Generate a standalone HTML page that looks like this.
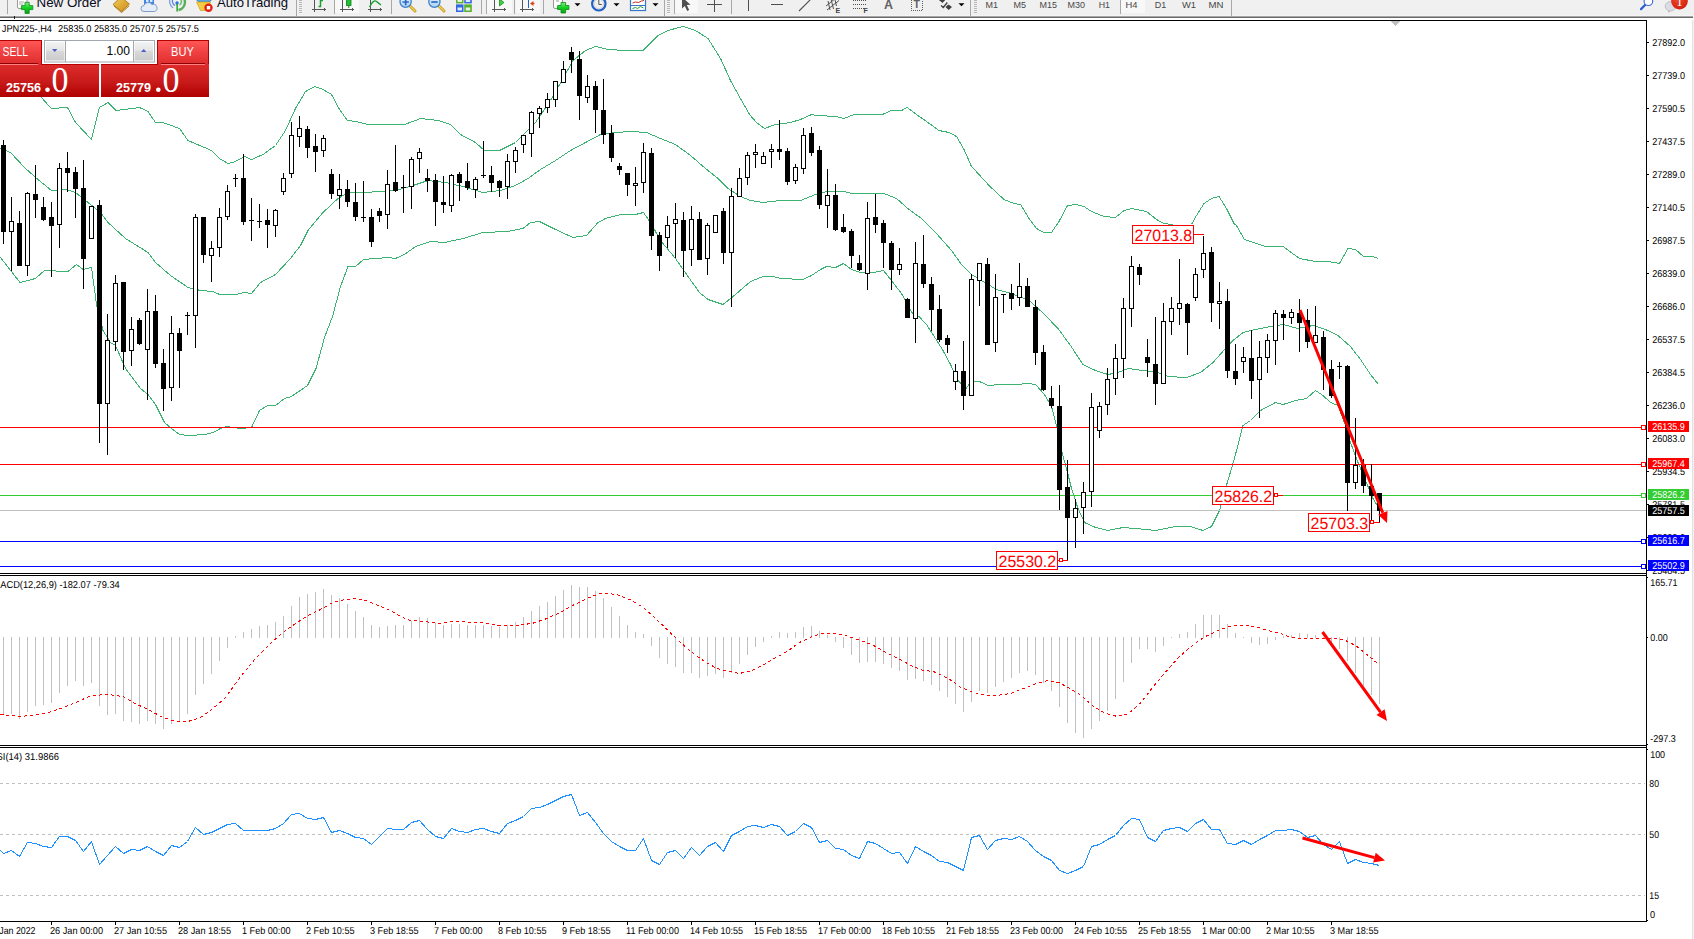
<!DOCTYPE html>
<html><head><meta charset="utf-8"><title>JPN225 H4</title>
<style>
html,body{margin:0;padding:0;background:#fff;}
body{width:1694px;height:939px;overflow:hidden;position:relative;font-family:"Liberation Sans",sans-serif;}
</style></head><body>
<svg width="1694" height="939" viewBox="0 0 1694 939" style="position:absolute;left:0;top:0" text-rendering="geometricPrecision">
<rect x="0" y="0" width="1694" height="939" fill="#fff"/>
<g shape-rendering="crispEdges">
<polyline points="34.5,88.5 44.0,100.5 51.5,108.5 67.5,107.5 75.5,122.5 91.5,139.5 99.5,107.5 108.0,102.5 116.0,110.5 139.5,107.5 148.0,111.5 155.5,122.5 163.0,122.5 179.5,128.5 188.0,140.5 211.5,150.5 219.5,158.5 228.0,163.5 235.5,161.5 244.5,156.5 251.5,159.5 263.0,154.5 275.5,145.5 285.5,130.5 295.5,108.5 305.5,91.5 315.0,86.5 323.0,89.5 331.5,94.5 339.5,109.5 347.5,120.5 355.5,121.5 368.0,124.5 383.0,124.5 404.5,124.5 415.5,120.5 420.5,118.5 438.0,120.5 450.5,124.5 460.5,134.5 475.5,142.5 484.5,150.5 499.5,150.5 515.5,142.5 525.5,132.5 535.5,122.5 550.5,100.5 563.0,78.5 573.0,60.5 585.5,50.5 595.5,46.5 608.0,49.5 625.5,50.5 643.0,50.5 658.0,35.5 668.0,30.5 683.0,26.5 695.5,30.5 708.0,38.5 720.5,58.5 730.5,80.5 740.5,98.5 749.5,114.5 756.5,122.5 764.5,128.5 775.5,124.5 790.5,122.5 800.5,119.5 811.5,114.5 816.5,115.5 836.5,116.5 844.0,118.5 854.0,114.5 882.5,114.5 891.5,110.5 901.5,110.5 907.0,107.5 916.5,114.5 926.5,121.5 939.0,130.5 949.0,132.5 956.5,136.5 964.0,149.5 971.5,166.5 979.0,174.5 989.0,185.5 1004.0,199.5 1014.0,203.5 1020.5,204.5 1029.0,218.5 1036.5,228.5 1044.0,232.5 1051.5,232.5 1059.0,221.5 1067.5,205.5 1076.5,204.5 1084.0,206.5 1091.5,211.5 1104.0,216.5 1115.5,217.5 1124.0,210.5 1131.5,208.5 1146.5,211.5 1156.5,219.5 1164.0,223.5 1172.5,224.5 1175.5,226.5 1188.5,226.5 1191.5,224.5 1196.5,215.5 1204.0,203.5 1211.5,198.5 1219.0,196.5 1226.5,208.5 1234.0,223.5 1236.5,225.5 1244.5,239.5 1265.5,246.5 1283.0,246.5 1299.5,258.5 1315.5,261.5 1328.0,261.5 1339.5,263.5 1348.0,248.5 1355.5,249.5 1363.5,256.5 1373.0,256.5 1378.5,258.5" fill="none" stroke="#3cb371" stroke-width="1"/>
<polyline points="0.5,148.5 10.5,152.5 25.5,168.5 38.0,179.5 51.5,190.5 66.5,189.5 75.5,192.5 85.5,200.5 100.5,212.5 108.0,222.5 125.5,238.5 148.0,252.5 155.5,262.5 170.5,275.5 188.0,287.5 200.5,290.5 213.0,291.5 219.5,294.5 235.5,294.5 244.5,292.5 251.5,293.5 260.5,282.5 275.5,274.5 290.5,258.5 300.5,245.5 308.0,230.5 323.0,212.5 338.0,198.5 348.0,192.5 360.5,192.5 383.0,191.5 395.5,190.5 413.0,185.5 428.0,180.5 445.5,182.5 463.0,186.5 483.0,192.5 500.5,190.5 515.5,185.5 528.0,178.5 540.5,169.5 555.5,160.5 570.5,150.5 585.5,142.5 600.5,134.5 615.5,132.5 630.5,131.5 646.5,132.5 660.5,138.5 675.5,144.5 690.5,155.5 705.5,168.5 718.0,178.5 728.0,188.5 740.5,196.5 750.5,200.5 763.0,202.5 780.5,200.5 800.5,200.5 815.5,194.5 826.5,191.5 844.0,191.5 851.5,193.5 884.0,193.5 896.5,198.5 909.0,209.5 921.5,218.5 936.5,233.5 951.5,250.5 961.5,264.5 971.5,274.5 986.5,283.5 996.5,289.5 1011.5,293.5 1024.0,298.5 1030.5,301.5 1044.5,314.5 1058.0,328.5 1070.5,345.5 1083.0,364.5 1095.5,370.5 1108.0,374.5 1118.0,372.5 1128.0,368.5 1143.0,370.5 1158.0,372.5 1168.0,376.5 1186.5,377.5 1200.5,372.5 1213.0,362.5 1225.5,348.5 1233.0,340.5 1243.0,332.5 1255.5,329.5 1270.5,326.5 1283.0,324.5 1298.0,328.5 1313.0,325.5 1325.5,329.5 1338.0,335.5 1350.5,346.5 1360.5,359.5 1370.5,374.5 1378.5,384.5" fill="none" stroke="#3cb371" stroke-width="1"/>
<polyline points="0.5,257.5 20.0,282.5 35.5,278.5 44.5,270.5 68.0,271.5 76.5,264.5 83.0,269.5 91.5,267.5 96.5,304.5 103.0,330.5 110.5,342.5 115.5,345.5 125.5,368.5 140.5,388.5 148.0,394.5 155.5,404.5 164.5,422.5 171.5,428.5 179.5,434.5 188.0,435.5 205.5,434.5 213.0,432.5 220.5,428.5 226.5,426.5 240.5,428.5 251.5,427.5 259.5,410.5 267.5,405.5 275.5,405.5 284.5,398.5 291.5,396.5 307.5,385.5 316.0,368.5 324.5,337.5 332.5,316.5 340.5,286.5 348.0,266.5 355.5,266.5 363.5,259.5 388.0,257.5 395.5,258.5 404.5,254.5 415.5,246.5 430.5,241.5 444.5,242.5 463.0,238.5 483.0,232.5 508.0,231.5 523.0,228.5 530.5,222.5 539.5,221.5 555.5,229.5 573.0,237.5 586.5,235.5 598.0,222.5 605.5,218.5 620.5,214.5 635.5,214.5 643.5,212.5 650.5,222.5 660.5,240.5 675.5,258.5 688.0,276.5 699.5,292.5 708.0,299.5 723.0,304.5 735.5,294.5 750.5,281.5 763.0,276.5 773.0,276.5 780.5,278.5 803.0,279.5 811.5,275.5 820.5,269.5 826.5,266.5 835.5,267.5 843.5,263.5 851.5,269.5 860.5,272.5 874.0,272.5 883.5,270.5 891.5,280.5 901.5,293.5 906.5,302.5 912.5,313.5 919.0,316.5 926.5,324.5 933.0,334.5 943.0,350.5 950.5,364.5 958.0,380.5 966.0,388.5 971.5,381.5 979.5,381.5 988.0,385.5 1000.5,384.5 1015.5,384.5 1028.0,383.5 1035.5,384.5 1044.5,394.5 1051.5,406.5 1056.5,425.5 1061.5,450.5 1066.5,468.5 1071.5,488.5 1078.0,508.5 1084.5,522.5 1095.5,527.5 1108.0,530.5 1123.0,527.5 1135.5,528.5 1155.5,530.5 1175.5,526.5 1190.5,526.5 1203.0,530.5 1211.5,526.5 1219.5,510.5 1225.5,488.5 1231.5,468.5 1238.0,445.5 1243.0,425.5 1250.5,420.5 1260.5,410.5 1275.5,402.5 1283.0,404.5 1295.5,400.5 1306.5,398.5 1315.5,390.5 1323.0,395.5 1330.5,402.5 1338.0,405.5 1345.5,425.5 1350.5,442.5 1358.0,462.5 1365.5,480.5 1373.0,498.5 1379.5,509.5" fill="none" stroke="#3cb371" stroke-width="1"/>
<rect x="0" y="427" width="1646" height="1" fill="#ff0000"/>
<rect x="0" y="464" width="1646" height="1" fill="#ff0000"/>
<rect x="0" y="495" width="1646" height="1" fill="#32cd32"/>
<rect x="0" y="510" width="1646" height="1" fill="#c0c0c0"/>
<rect x="0" y="541" width="1646" height="1" fill="#0000ff"/>
<rect x="0" y="566" width="1646" height="1" fill="#0000ff"/>
<rect x="3" y="140" width="1" height="104" fill="#000"/>
<rect x="1" y="145" width="5" height="87" fill="#000"/>
<rect x="11" y="197" width="1" height="74" fill="#000"/>
<rect x="9" y="221" width="5" height="11" fill="#000"/>
<rect x="10" y="222" width="3" height="9" fill="#fff"/>
<rect x="19" y="211" width="1" height="55" fill="#000"/>
<rect x="17" y="223" width="5" height="43" fill="#000"/>
<rect x="27" y="192" width="1" height="84" fill="#000"/>
<rect x="25" y="193" width="5" height="73" fill="#000"/>
<rect x="26" y="194" width="3" height="71" fill="#fff"/>
<rect x="35" y="165" width="1" height="53" fill="#000"/>
<rect x="33" y="194" width="5" height="6" fill="#000"/>
<rect x="43" y="197" width="1" height="24" fill="#000"/>
<rect x="41" y="207" width="5" height="13" fill="#000"/>
<rect x="51" y="202" width="1" height="75" fill="#000"/>
<rect x="49" y="217" width="5" height="9" fill="#000"/>
<rect x="59" y="163" width="1" height="85" fill="#000"/>
<rect x="57" y="168" width="5" height="57" fill="#000"/>
<rect x="58" y="169" width="3" height="55" fill="#fff"/>
<rect x="67" y="152" width="1" height="40" fill="#000"/>
<rect x="65" y="168" width="5" height="5" fill="#000"/>
<rect x="75" y="167" width="1" height="51" fill="#000"/>
<rect x="73" y="172" width="5" height="17" fill="#000"/>
<rect x="83" y="160" width="1" height="129" fill="#000"/>
<rect x="81" y="188" width="5" height="71" fill="#000"/>
<rect x="91" y="206" width="1" height="33" fill="#000"/>
<rect x="89" y="206" width="5" height="33" fill="#000"/>
<rect x="90" y="207" width="3" height="31" fill="#fff"/>
<rect x="99" y="200" width="1" height="243" fill="#000"/>
<rect x="97" y="205" width="5" height="199" fill="#000"/>
<rect x="107" y="314" width="1" height="141" fill="#000"/>
<rect x="105" y="340" width="5" height="64" fill="#000"/>
<rect x="106" y="341" width="3" height="62" fill="#fff"/>
<rect x="115" y="275" width="1" height="76" fill="#000"/>
<rect x="113" y="283" width="5" height="59" fill="#000"/>
<rect x="114" y="284" width="3" height="57" fill="#fff"/>
<rect x="123" y="282" width="1" height="88" fill="#000"/>
<rect x="121" y="282" width="5" height="70" fill="#000"/>
<rect x="131" y="317" width="1" height="49" fill="#000"/>
<rect x="129" y="329" width="5" height="22" fill="#000"/>
<rect x="130" y="330" width="3" height="20" fill="#fff"/>
<rect x="139" y="318" width="1" height="27" fill="#000"/>
<rect x="137" y="320" width="5" height="24" fill="#000"/>
<rect x="147" y="289" width="1" height="111" fill="#000"/>
<rect x="145" y="311" width="5" height="39" fill="#000"/>
<rect x="146" y="312" width="3" height="37" fill="#fff"/>
<rect x="155" y="295" width="1" height="73" fill="#000"/>
<rect x="153" y="311" width="5" height="53" fill="#000"/>
<rect x="163" y="349" width="1" height="62" fill="#000"/>
<rect x="161" y="363" width="5" height="26" fill="#000"/>
<rect x="171" y="316" width="1" height="85" fill="#000"/>
<rect x="169" y="333" width="5" height="55" fill="#000"/>
<rect x="170" y="334" width="3" height="53" fill="#fff"/>
<rect x="179" y="328" width="1" height="60" fill="#000"/>
<rect x="177" y="333" width="5" height="18" fill="#000"/>
<rect x="187" y="312" width="1" height="23" fill="#000"/>
<rect x="185" y="315" width="5" height="1" fill="#000"/>
<rect x="195" y="214" width="1" height="134" fill="#000"/>
<rect x="193" y="217" width="5" height="99" fill="#000"/>
<rect x="194" y="218" width="3" height="97" fill="#fff"/>
<rect x="203" y="217" width="1" height="46" fill="#000"/>
<rect x="201" y="217" width="5" height="38" fill="#000"/>
<rect x="211" y="241" width="1" height="41" fill="#000"/>
<rect x="209" y="248" width="5" height="8" fill="#000"/>
<rect x="210" y="249" width="3" height="6" fill="#fff"/>
<rect x="219" y="208" width="1" height="49" fill="#000"/>
<rect x="217" y="217" width="5" height="31" fill="#000"/>
<rect x="218" y="218" width="3" height="29" fill="#fff"/>
<rect x="227" y="185" width="1" height="35" fill="#000"/>
<rect x="225" y="191" width="5" height="26" fill="#000"/>
<rect x="226" y="192" width="3" height="24" fill="#fff"/>
<rect x="235" y="174" width="1" height="13" fill="#000"/>
<rect x="233" y="178" width="5" height="1" fill="#000"/>
<rect x="243" y="154" width="1" height="71" fill="#000"/>
<rect x="241" y="178" width="5" height="44" fill="#000"/>
<rect x="251" y="198" width="1" height="43" fill="#000"/>
<rect x="249" y="220" width="5" height="1" fill="#000"/>
<rect x="259" y="204" width="1" height="24" fill="#000"/>
<rect x="257" y="221" width="5" height="1" fill="#000"/>
<rect x="267" y="209" width="1" height="39" fill="#000"/>
<rect x="265" y="220" width="5" height="5" fill="#000"/>
<rect x="275" y="209" width="1" height="28" fill="#000"/>
<rect x="273" y="210" width="5" height="16" fill="#000"/>
<rect x="274" y="211" width="3" height="14" fill="#fff"/>
<rect x="283" y="173" width="1" height="22" fill="#000"/>
<rect x="281" y="178" width="5" height="14" fill="#000"/>
<rect x="282" y="179" width="3" height="12" fill="#fff"/>
<rect x="291" y="122" width="1" height="56" fill="#000"/>
<rect x="289" y="135" width="5" height="39" fill="#000"/>
<rect x="290" y="136" width="3" height="37" fill="#fff"/>
<rect x="299" y="116" width="1" height="31" fill="#000"/>
<rect x="297" y="128" width="5" height="9" fill="#000"/>
<rect x="298" y="129" width="3" height="7" fill="#fff"/>
<rect x="307" y="126" width="1" height="32" fill="#000"/>
<rect x="305" y="129" width="5" height="19" fill="#000"/>
<rect x="315" y="134" width="1" height="38" fill="#000"/>
<rect x="313" y="146" width="5" height="6" fill="#000"/>
<rect x="323" y="135" width="1" height="22" fill="#000"/>
<rect x="321" y="138" width="5" height="13" fill="#000"/>
<rect x="322" y="139" width="3" height="11" fill="#fff"/>
<rect x="331" y="169" width="1" height="30" fill="#000"/>
<rect x="329" y="174" width="5" height="20" fill="#000"/>
<rect x="339" y="174" width="1" height="35" fill="#000"/>
<rect x="337" y="189" width="5" height="7" fill="#000"/>
<rect x="338" y="190" width="3" height="5" fill="#fff"/>
<rect x="347" y="180" width="1" height="27" fill="#000"/>
<rect x="345" y="189" width="5" height="13" fill="#000"/>
<rect x="355" y="183" width="1" height="38" fill="#000"/>
<rect x="353" y="202" width="5" height="15" fill="#000"/>
<rect x="363" y="181" width="1" height="41" fill="#000"/>
<rect x="361" y="217" width="5" height="1" fill="#000"/>
<rect x="371" y="209" width="1" height="38" fill="#000"/>
<rect x="369" y="217" width="5" height="25" fill="#000"/>
<rect x="379" y="208" width="1" height="14" fill="#000"/>
<rect x="377" y="211" width="5" height="5" fill="#000"/>
<rect x="387" y="170" width="1" height="59" fill="#000"/>
<rect x="385" y="184" width="5" height="31" fill="#000"/>
<rect x="386" y="185" width="3" height="29" fill="#fff"/>
<rect x="395" y="145" width="1" height="47" fill="#000"/>
<rect x="393" y="182" width="5" height="9" fill="#000"/>
<rect x="403" y="175" width="1" height="38" fill="#000"/>
<rect x="401" y="187" width="5" height="1" fill="#000"/>
<rect x="411" y="157" width="1" height="52" fill="#000"/>
<rect x="409" y="159" width="5" height="28" fill="#000"/>
<rect x="410" y="160" width="3" height="26" fill="#fff"/>
<rect x="419" y="148" width="1" height="25" fill="#000"/>
<rect x="417" y="152" width="5" height="7" fill="#000"/>
<rect x="418" y="153" width="3" height="5" fill="#fff"/>
<rect x="427" y="169" width="1" height="23" fill="#000"/>
<rect x="425" y="178" width="5" height="3" fill="#000"/>
<rect x="435" y="174" width="1" height="52" fill="#000"/>
<rect x="433" y="180" width="5" height="22" fill="#000"/>
<rect x="443" y="176" width="1" height="37" fill="#000"/>
<rect x="441" y="202" width="5" height="3" fill="#000"/>
<rect x="451" y="174" width="1" height="38" fill="#000"/>
<rect x="449" y="175" width="5" height="31" fill="#000"/>
<rect x="450" y="176" width="3" height="29" fill="#fff"/>
<rect x="459" y="172" width="1" height="29" fill="#000"/>
<rect x="457" y="174" width="5" height="9" fill="#000"/>
<rect x="467" y="163" width="1" height="27" fill="#000"/>
<rect x="465" y="181" width="5" height="7" fill="#000"/>
<rect x="475" y="177" width="1" height="21" fill="#000"/>
<rect x="473" y="179" width="5" height="11" fill="#000"/>
<rect x="474" y="180" width="3" height="9" fill="#fff"/>
<rect x="483" y="141" width="1" height="37" fill="#000"/>
<rect x="481" y="175" width="5" height="1" fill="#000"/>
<rect x="491" y="166" width="1" height="26" fill="#000"/>
<rect x="489" y="175" width="5" height="8" fill="#000"/>
<rect x="499" y="180" width="1" height="17" fill="#000"/>
<rect x="497" y="181" width="5" height="7" fill="#000"/>
<rect x="507" y="154" width="1" height="45" fill="#000"/>
<rect x="505" y="161" width="5" height="26" fill="#000"/>
<rect x="506" y="162" width="3" height="24" fill="#fff"/>
<rect x="515" y="147" width="1" height="26" fill="#000"/>
<rect x="513" y="150" width="5" height="12" fill="#000"/>
<rect x="514" y="151" width="3" height="10" fill="#fff"/>
<rect x="523" y="135" width="1" height="18" fill="#000"/>
<rect x="521" y="135" width="5" height="10" fill="#000"/>
<rect x="522" y="136" width="3" height="8" fill="#fff"/>
<rect x="531" y="111" width="1" height="46" fill="#000"/>
<rect x="529" y="112" width="5" height="22" fill="#000"/>
<rect x="530" y="113" width="3" height="20" fill="#fff"/>
<rect x="539" y="106" width="1" height="22" fill="#000"/>
<rect x="537" y="108" width="5" height="6" fill="#000"/>
<rect x="538" y="109" width="3" height="4" fill="#fff"/>
<rect x="547" y="93" width="1" height="20" fill="#000"/>
<rect x="545" y="99" width="5" height="9" fill="#000"/>
<rect x="546" y="100" width="3" height="7" fill="#fff"/>
<rect x="555" y="81" width="1" height="26" fill="#000"/>
<rect x="553" y="81" width="5" height="19" fill="#000"/>
<rect x="554" y="82" width="3" height="17" fill="#fff"/>
<rect x="563" y="61" width="1" height="22" fill="#000"/>
<rect x="561" y="69" width="5" height="14" fill="#000"/>
<rect x="562" y="70" width="3" height="12" fill="#fff"/>
<rect x="571" y="47" width="1" height="26" fill="#000"/>
<rect x="569" y="52" width="5" height="8" fill="#000"/>
<rect x="579" y="51" width="1" height="69" fill="#000"/>
<rect x="577" y="59" width="5" height="37" fill="#000"/>
<rect x="587" y="75" width="1" height="28" fill="#000"/>
<rect x="585" y="86" width="5" height="12" fill="#000"/>
<rect x="586" y="87" width="3" height="10" fill="#fff"/>
<rect x="595" y="81" width="1" height="52" fill="#000"/>
<rect x="593" y="86" width="5" height="24" fill="#000"/>
<rect x="603" y="79" width="1" height="65" fill="#000"/>
<rect x="601" y="110" width="5" height="25" fill="#000"/>
<rect x="611" y="125" width="1" height="37" fill="#000"/>
<rect x="609" y="133" width="5" height="25" fill="#000"/>
<rect x="619" y="163" width="1" height="12" fill="#000"/>
<rect x="617" y="166" width="5" height="4" fill="#000"/>
<rect x="627" y="173" width="1" height="23" fill="#000"/>
<rect x="625" y="173" width="5" height="12" fill="#000"/>
<rect x="635" y="167" width="1" height="39" fill="#000"/>
<rect x="633" y="183" width="5" height="3" fill="#000"/>
<rect x="634" y="184" width="3" height="1" fill="#fff"/>
<rect x="643" y="143" width="1" height="50" fill="#000"/>
<rect x="641" y="152" width="5" height="31" fill="#000"/>
<rect x="642" y="153" width="3" height="29" fill="#fff"/>
<rect x="651" y="148" width="1" height="102" fill="#000"/>
<rect x="649" y="153" width="5" height="83" fill="#000"/>
<rect x="659" y="232" width="1" height="39" fill="#000"/>
<rect x="657" y="235" width="5" height="21" fill="#000"/>
<rect x="667" y="216" width="1" height="32" fill="#000"/>
<rect x="665" y="225" width="5" height="13" fill="#000"/>
<rect x="666" y="226" width="3" height="11" fill="#fff"/>
<rect x="675" y="203" width="1" height="55" fill="#000"/>
<rect x="673" y="219" width="5" height="5" fill="#000"/>
<rect x="674" y="220" width="3" height="3" fill="#fff"/>
<rect x="683" y="212" width="1" height="65" fill="#000"/>
<rect x="681" y="220" width="5" height="31" fill="#000"/>
<rect x="691" y="206" width="1" height="60" fill="#000"/>
<rect x="689" y="219" width="5" height="31" fill="#000"/>
<rect x="690" y="220" width="3" height="29" fill="#fff"/>
<rect x="699" y="212" width="1" height="48" fill="#000"/>
<rect x="697" y="219" width="5" height="41" fill="#000"/>
<rect x="707" y="223" width="1" height="52" fill="#000"/>
<rect x="705" y="225" width="5" height="34" fill="#000"/>
<rect x="706" y="226" width="3" height="32" fill="#fff"/>
<rect x="715" y="215" width="1" height="18" fill="#000"/>
<rect x="713" y="215" width="5" height="18" fill="#000"/>
<rect x="714" y="216" width="3" height="16" fill="#fff"/>
<rect x="723" y="208" width="1" height="56" fill="#000"/>
<rect x="721" y="211" width="5" height="42" fill="#000"/>
<rect x="731" y="188" width="1" height="119" fill="#000"/>
<rect x="729" y="196" width="5" height="57" fill="#000"/>
<rect x="730" y="197" width="3" height="55" fill="#fff"/>
<rect x="739" y="168" width="1" height="29" fill="#000"/>
<rect x="737" y="178" width="5" height="19" fill="#000"/>
<rect x="738" y="179" width="3" height="17" fill="#fff"/>
<rect x="747" y="152" width="1" height="33" fill="#000"/>
<rect x="745" y="155" width="5" height="23" fill="#000"/>
<rect x="746" y="156" width="3" height="21" fill="#fff"/>
<rect x="755" y="144" width="1" height="24" fill="#000"/>
<rect x="753" y="152" width="5" height="3" fill="#000"/>
<rect x="754" y="153" width="3" height="1" fill="#fff"/>
<rect x="763" y="152" width="1" height="12" fill="#000"/>
<rect x="761" y="156" width="5" height="8" fill="#000"/>
<rect x="762" y="157" width="3" height="6" fill="#fff"/>
<rect x="771" y="144" width="1" height="24" fill="#000"/>
<rect x="769" y="149" width="5" height="3" fill="#000"/>
<rect x="770" y="150" width="3" height="1" fill="#fff"/>
<rect x="779" y="120" width="1" height="40" fill="#000"/>
<rect x="777" y="149" width="5" height="3" fill="#000"/>
<rect x="787" y="148" width="1" height="37" fill="#000"/>
<rect x="785" y="151" width="5" height="31" fill="#000"/>
<rect x="795" y="164" width="1" height="20" fill="#000"/>
<rect x="793" y="167" width="5" height="14" fill="#000"/>
<rect x="794" y="168" width="3" height="12" fill="#fff"/>
<rect x="803" y="128" width="1" height="46" fill="#000"/>
<rect x="801" y="135" width="5" height="34" fill="#000"/>
<rect x="802" y="136" width="3" height="32" fill="#fff"/>
<rect x="811" y="127" width="1" height="29" fill="#000"/>
<rect x="809" y="133" width="5" height="20" fill="#000"/>
<rect x="819" y="146" width="1" height="63" fill="#000"/>
<rect x="817" y="150" width="5" height="55" fill="#000"/>
<rect x="827" y="169" width="1" height="59" fill="#000"/>
<rect x="825" y="195" width="5" height="11" fill="#000"/>
<rect x="826" y="196" width="3" height="9" fill="#fff"/>
<rect x="835" y="184" width="1" height="47" fill="#000"/>
<rect x="833" y="195" width="5" height="35" fill="#000"/>
<rect x="843" y="214" width="1" height="19" fill="#000"/>
<rect x="841" y="227" width="5" height="5" fill="#000"/>
<rect x="851" y="229" width="1" height="39" fill="#000"/>
<rect x="849" y="231" width="5" height="25" fill="#000"/>
<rect x="859" y="255" width="1" height="16" fill="#000"/>
<rect x="857" y="263" width="5" height="7" fill="#000"/>
<rect x="867" y="202" width="1" height="88" fill="#000"/>
<rect x="865" y="218" width="5" height="56" fill="#000"/>
<rect x="866" y="219" width="3" height="54" fill="#fff"/>
<rect x="875" y="194" width="1" height="39" fill="#000"/>
<rect x="873" y="217" width="5" height="8" fill="#000"/>
<rect x="883" y="220" width="1" height="48" fill="#000"/>
<rect x="881" y="223" width="5" height="20" fill="#000"/>
<rect x="891" y="241" width="1" height="49" fill="#000"/>
<rect x="889" y="243" width="5" height="27" fill="#000"/>
<rect x="899" y="248" width="1" height="27" fill="#000"/>
<rect x="897" y="264" width="5" height="6" fill="#000"/>
<rect x="898" y="265" width="3" height="4" fill="#fff"/>
<rect x="907" y="298" width="1" height="20" fill="#000"/>
<rect x="905" y="299" width="5" height="19" fill="#000"/>
<rect x="915" y="242" width="1" height="101" fill="#000"/>
<rect x="913" y="263" width="5" height="56" fill="#000"/>
<rect x="914" y="264" width="3" height="54" fill="#fff"/>
<rect x="923" y="235" width="1" height="53" fill="#000"/>
<rect x="921" y="264" width="5" height="20" fill="#000"/>
<rect x="931" y="277" width="1" height="54" fill="#000"/>
<rect x="929" y="284" width="5" height="26" fill="#000"/>
<rect x="939" y="295" width="1" height="47" fill="#000"/>
<rect x="937" y="309" width="5" height="31" fill="#000"/>
<rect x="947" y="335" width="1" height="18" fill="#000"/>
<rect x="945" y="338" width="5" height="7" fill="#000"/>
<rect x="955" y="364" width="1" height="26" fill="#000"/>
<rect x="953" y="371" width="5" height="11" fill="#000"/>
<rect x="954" y="372" width="3" height="9" fill="#fff"/>
<rect x="963" y="341" width="1" height="69" fill="#000"/>
<rect x="961" y="371" width="5" height="25" fill="#000"/>
<rect x="971" y="274" width="1" height="122" fill="#000"/>
<rect x="969" y="279" width="5" height="117" fill="#000"/>
<rect x="970" y="280" width="3" height="115" fill="#fff"/>
<rect x="979" y="263" width="1" height="43" fill="#000"/>
<rect x="977" y="263" width="5" height="18" fill="#000"/>
<rect x="978" y="264" width="3" height="16" fill="#fff"/>
<rect x="987" y="258" width="1" height="87" fill="#000"/>
<rect x="985" y="264" width="5" height="81" fill="#000"/>
<rect x="995" y="274" width="1" height="78" fill="#000"/>
<rect x="993" y="297" width="5" height="46" fill="#000"/>
<rect x="994" y="298" width="3" height="44" fill="#fff"/>
<rect x="1003" y="294" width="1" height="19" fill="#000"/>
<rect x="1001" y="294" width="5" height="1" fill="#000"/>
<rect x="1011" y="284" width="1" height="26" fill="#000"/>
<rect x="1009" y="293" width="5" height="6" fill="#000"/>
<rect x="1019" y="263" width="1" height="43" fill="#000"/>
<rect x="1017" y="286" width="5" height="12" fill="#000"/>
<rect x="1018" y="287" width="3" height="10" fill="#fff"/>
<rect x="1027" y="278" width="1" height="29" fill="#000"/>
<rect x="1025" y="286" width="5" height="21" fill="#000"/>
<rect x="1035" y="300" width="1" height="65" fill="#000"/>
<rect x="1033" y="307" width="5" height="46" fill="#000"/>
<rect x="1043" y="345" width="1" height="46" fill="#000"/>
<rect x="1041" y="352" width="5" height="38" fill="#000"/>
<rect x="1051" y="386" width="1" height="22" fill="#000"/>
<rect x="1049" y="398" width="5" height="8" fill="#000"/>
<rect x="1059" y="385" width="1" height="125" fill="#000"/>
<rect x="1057" y="406" width="5" height="84" fill="#000"/>
<rect x="1067" y="460" width="1" height="101" fill="#000"/>
<rect x="1065" y="487" width="5" height="31" fill="#000"/>
<rect x="1075" y="499" width="1" height="49" fill="#000"/>
<rect x="1073" y="508" width="5" height="10" fill="#000"/>
<rect x="1074" y="509" width="3" height="8" fill="#fff"/>
<rect x="1083" y="482" width="1" height="52" fill="#000"/>
<rect x="1081" y="492" width="5" height="16" fill="#000"/>
<rect x="1082" y="493" width="3" height="14" fill="#fff"/>
<rect x="1091" y="393" width="1" height="114" fill="#000"/>
<rect x="1089" y="407" width="5" height="85" fill="#000"/>
<rect x="1090" y="408" width="3" height="83" fill="#fff"/>
<rect x="1099" y="402" width="1" height="36" fill="#000"/>
<rect x="1097" y="406" width="5" height="25" fill="#000"/>
<rect x="1098" y="407" width="3" height="23" fill="#fff"/>
<rect x="1107" y="368" width="1" height="47" fill="#000"/>
<rect x="1105" y="379" width="5" height="26" fill="#000"/>
<rect x="1106" y="380" width="3" height="24" fill="#fff"/>
<rect x="1115" y="344" width="1" height="51" fill="#000"/>
<rect x="1113" y="358" width="5" height="21" fill="#000"/>
<rect x="1114" y="359" width="3" height="19" fill="#fff"/>
<rect x="1123" y="298" width="1" height="80" fill="#000"/>
<rect x="1121" y="308" width="5" height="51" fill="#000"/>
<rect x="1122" y="309" width="3" height="49" fill="#fff"/>
<rect x="1131" y="256" width="1" height="71" fill="#000"/>
<rect x="1129" y="266" width="5" height="43" fill="#000"/>
<rect x="1130" y="267" width="3" height="41" fill="#fff"/>
<rect x="1139" y="264" width="1" height="21" fill="#000"/>
<rect x="1137" y="267" width="5" height="8" fill="#000"/>
<rect x="1147" y="339" width="1" height="38" fill="#000"/>
<rect x="1145" y="357" width="5" height="6" fill="#000"/>
<rect x="1155" y="317" width="1" height="88" fill="#000"/>
<rect x="1153" y="364" width="5" height="20" fill="#000"/>
<rect x="1163" y="303" width="1" height="81" fill="#000"/>
<rect x="1161" y="321" width="5" height="63" fill="#000"/>
<rect x="1162" y="322" width="3" height="61" fill="#fff"/>
<rect x="1171" y="297" width="1" height="38" fill="#000"/>
<rect x="1169" y="308" width="5" height="14" fill="#000"/>
<rect x="1170" y="309" width="3" height="12" fill="#fff"/>
<rect x="1179" y="259" width="1" height="66" fill="#000"/>
<rect x="1177" y="303" width="5" height="6" fill="#000"/>
<rect x="1178" y="304" width="3" height="4" fill="#fff"/>
<rect x="1187" y="303" width="1" height="52" fill="#000"/>
<rect x="1185" y="304" width="5" height="19" fill="#000"/>
<rect x="1195" y="268" width="1" height="33" fill="#000"/>
<rect x="1193" y="274" width="5" height="24" fill="#000"/>
<rect x="1194" y="275" width="3" height="22" fill="#fff"/>
<rect x="1203" y="236" width="1" height="42" fill="#000"/>
<rect x="1201" y="253" width="5" height="17" fill="#000"/>
<rect x="1202" y="254" width="3" height="15" fill="#fff"/>
<rect x="1211" y="247" width="1" height="75" fill="#000"/>
<rect x="1209" y="252" width="5" height="51" fill="#000"/>
<rect x="1219" y="282" width="1" height="47" fill="#000"/>
<rect x="1217" y="301" width="5" height="3" fill="#000"/>
<rect x="1218" y="302" width="3" height="1" fill="#fff"/>
<rect x="1227" y="289" width="1" height="89" fill="#000"/>
<rect x="1225" y="301" width="5" height="70" fill="#000"/>
<rect x="1235" y="344" width="1" height="41" fill="#000"/>
<rect x="1233" y="371" width="5" height="8" fill="#000"/>
<rect x="1243" y="347" width="1" height="26" fill="#000"/>
<rect x="1241" y="357" width="5" height="5" fill="#000"/>
<rect x="1242" y="358" width="3" height="3" fill="#fff"/>
<rect x="1251" y="330" width="1" height="69" fill="#000"/>
<rect x="1249" y="358" width="5" height="23" fill="#000"/>
<rect x="1259" y="341" width="1" height="77" fill="#000"/>
<rect x="1257" y="357" width="5" height="23" fill="#000"/>
<rect x="1258" y="358" width="3" height="21" fill="#fff"/>
<rect x="1267" y="334" width="1" height="39" fill="#000"/>
<rect x="1265" y="340" width="5" height="18" fill="#000"/>
<rect x="1266" y="341" width="3" height="16" fill="#fff"/>
<rect x="1275" y="310" width="1" height="55" fill="#000"/>
<rect x="1273" y="313" width="5" height="28" fill="#000"/>
<rect x="1274" y="314" width="3" height="26" fill="#fff"/>
<rect x="1283" y="310" width="1" height="30" fill="#000"/>
<rect x="1281" y="314" width="5" height="4" fill="#000"/>
<rect x="1291" y="309" width="1" height="15" fill="#000"/>
<rect x="1289" y="312" width="5" height="6" fill="#000"/>
<rect x="1290" y="313" width="3" height="4" fill="#fff"/>
<rect x="1299" y="299" width="1" height="53" fill="#000"/>
<rect x="1297" y="313" width="5" height="10" fill="#000"/>
<rect x="1307" y="309" width="1" height="39" fill="#000"/>
<rect x="1305" y="320" width="5" height="22" fill="#000"/>
<rect x="1315" y="306" width="1" height="37" fill="#000"/>
<rect x="1313" y="335" width="5" height="8" fill="#000"/>
<rect x="1314" y="336" width="3" height="6" fill="#fff"/>
<rect x="1323" y="331" width="1" height="59" fill="#000"/>
<rect x="1321" y="337" width="5" height="33" fill="#000"/>
<rect x="1331" y="360" width="1" height="38" fill="#000"/>
<rect x="1329" y="369" width="5" height="27" fill="#000"/>
<rect x="1339" y="362" width="1" height="17" fill="#000"/>
<rect x="1337" y="366" width="5" height="1" fill="#000"/>
<rect x="1347" y="365" width="1" height="146" fill="#000"/>
<rect x="1345" y="366" width="5" height="117" fill="#000"/>
<rect x="1355" y="418" width="1" height="71" fill="#000"/>
<rect x="1353" y="465" width="5" height="18" fill="#000"/>
<rect x="1354" y="466" width="3" height="16" fill="#fff"/>
<rect x="1363" y="459" width="1" height="34" fill="#000"/>
<rect x="1361" y="465" width="5" height="21" fill="#000"/>
<rect x="1371" y="464" width="1" height="56" fill="#000"/>
<rect x="1369" y="486" width="5" height="10" fill="#000"/>
<rect x="1379" y="493" width="1" height="30" fill="#000"/>
<rect x="1377" y="493" width="5" height="18" fill="#000"/>
<rect x="3" y="637" width="1" height="77" fill="#c0c0c0"/>
<rect x="11" y="637" width="1" height="77" fill="#c0c0c0"/>
<rect x="19" y="637" width="1" height="82" fill="#c0c0c0"/>
<rect x="27" y="637" width="1" height="75" fill="#c0c0c0"/>
<rect x="35" y="637" width="1" height="69" fill="#c0c0c0"/>
<rect x="43" y="637" width="1" height="68" fill="#c0c0c0"/>
<rect x="51" y="637" width="1" height="66" fill="#c0c0c0"/>
<rect x="59" y="637" width="1" height="56" fill="#c0c0c0"/>
<rect x="67" y="637" width="1" height="49" fill="#c0c0c0"/>
<rect x="75" y="637" width="1" height="44" fill="#c0c0c0"/>
<rect x="83" y="637" width="1" height="49" fill="#c0c0c0"/>
<rect x="91" y="637" width="1" height="46" fill="#c0c0c0"/>
<rect x="99" y="637" width="1" height="69" fill="#c0c0c0"/>
<rect x="107" y="637" width="1" height="78" fill="#c0c0c0"/>
<rect x="115" y="637" width="1" height="77" fill="#c0c0c0"/>
<rect x="123" y="637" width="1" height="84" fill="#c0c0c0"/>
<rect x="131" y="637" width="1" height="85" fill="#c0c0c0"/>
<rect x="139" y="637" width="1" height="87" fill="#c0c0c0"/>
<rect x="147" y="637" width="1" height="84" fill="#c0c0c0"/>
<rect x="155" y="637" width="1" height="87" fill="#c0c0c0"/>
<rect x="163" y="637" width="1" height="92" fill="#c0c0c0"/>
<rect x="171" y="637" width="1" height="87" fill="#c0c0c0"/>
<rect x="179" y="637" width="1" height="85" fill="#c0c0c0"/>
<rect x="187" y="637" width="1" height="77" fill="#c0c0c0"/>
<rect x="195" y="637" width="1" height="58" fill="#c0c0c0"/>
<rect x="203" y="637" width="1" height="47" fill="#c0c0c0"/>
<rect x="211" y="637" width="1" height="37" fill="#c0c0c0"/>
<rect x="219" y="637" width="1" height="24" fill="#c0c0c0"/>
<rect x="227" y="637" width="1" height="11" fill="#c0c0c0"/>
<rect x="235" y="636" width="1" height="2" fill="#c0c0c0"/>
<rect x="243" y="632" width="1" height="6" fill="#c0c0c0"/>
<rect x="251" y="629" width="1" height="9" fill="#c0c0c0"/>
<rect x="259" y="626" width="1" height="12" fill="#c0c0c0"/>
<rect x="267" y="625" width="1" height="13" fill="#c0c0c0"/>
<rect x="275" y="622" width="1" height="16" fill="#c0c0c0"/>
<rect x="283" y="616" width="1" height="22" fill="#c0c0c0"/>
<rect x="291" y="606" width="1" height="32" fill="#c0c0c0"/>
<rect x="299" y="597" width="1" height="41" fill="#c0c0c0"/>
<rect x="307" y="594" width="1" height="44" fill="#c0c0c0"/>
<rect x="315" y="592" width="1" height="46" fill="#c0c0c0"/>
<rect x="323" y="589" width="1" height="49" fill="#c0c0c0"/>
<rect x="331" y="595" width="1" height="43" fill="#c0c0c0"/>
<rect x="339" y="598" width="1" height="40" fill="#c0c0c0"/>
<rect x="347" y="604" width="1" height="34" fill="#c0c0c0"/>
<rect x="355" y="611" width="1" height="27" fill="#c0c0c0"/>
<rect x="363" y="617" width="1" height="21" fill="#c0c0c0"/>
<rect x="371" y="625" width="1" height="13" fill="#c0c0c0"/>
<rect x="379" y="627" width="1" height="11" fill="#c0c0c0"/>
<rect x="387" y="626" width="1" height="12" fill="#c0c0c0"/>
<rect x="395" y="625" width="1" height="13" fill="#c0c0c0"/>
<rect x="403" y="625" width="1" height="13" fill="#c0c0c0"/>
<rect x="411" y="621" width="1" height="17" fill="#c0c0c0"/>
<rect x="419" y="617" width="1" height="21" fill="#c0c0c0"/>
<rect x="427" y="618" width="1" height="20" fill="#c0c0c0"/>
<rect x="435" y="623" width="1" height="15" fill="#c0c0c0"/>
<rect x="443" y="625" width="1" height="13" fill="#c0c0c0"/>
<rect x="451" y="624" width="1" height="14" fill="#c0c0c0"/>
<rect x="459" y="624" width="1" height="14" fill="#c0c0c0"/>
<rect x="467" y="625" width="1" height="13" fill="#c0c0c0"/>
<rect x="475" y="625" width="1" height="13" fill="#c0c0c0"/>
<rect x="483" y="625" width="1" height="13" fill="#c0c0c0"/>
<rect x="491" y="626" width="1" height="12" fill="#c0c0c0"/>
<rect x="499" y="627" width="1" height="11" fill="#c0c0c0"/>
<rect x="507" y="625" width="1" height="13" fill="#c0c0c0"/>
<rect x="515" y="622" width="1" height="16" fill="#c0c0c0"/>
<rect x="523" y="617" width="1" height="21" fill="#c0c0c0"/>
<rect x="531" y="611" width="1" height="27" fill="#c0c0c0"/>
<rect x="539" y="606" width="1" height="32" fill="#c0c0c0"/>
<rect x="547" y="602" width="1" height="36" fill="#c0c0c0"/>
<rect x="555" y="596" width="1" height="42" fill="#c0c0c0"/>
<rect x="563" y="590" width="1" height="48" fill="#c0c0c0"/>
<rect x="571" y="585" width="1" height="53" fill="#c0c0c0"/>
<rect x="579" y="587" width="1" height="51" fill="#c0c0c0"/>
<rect x="587" y="587" width="1" height="51" fill="#c0c0c0"/>
<rect x="595" y="591" width="1" height="47" fill="#c0c0c0"/>
<rect x="603" y="598" width="1" height="40" fill="#c0c0c0"/>
<rect x="611" y="607" width="1" height="31" fill="#c0c0c0"/>
<rect x="619" y="616" width="1" height="22" fill="#c0c0c0"/>
<rect x="627" y="625" width="1" height="13" fill="#c0c0c0"/>
<rect x="635" y="632" width="1" height="6" fill="#c0c0c0"/>
<rect x="643" y="634" width="1" height="4" fill="#c0c0c0"/>
<rect x="651" y="637" width="1" height="9" fill="#c0c0c0"/>
<rect x="659" y="637" width="1" height="21" fill="#c0c0c0"/>
<rect x="667" y="637" width="1" height="27" fill="#c0c0c0"/>
<rect x="675" y="637" width="1" height="30" fill="#c0c0c0"/>
<rect x="683" y="637" width="1" height="36" fill="#c0c0c0"/>
<rect x="691" y="637" width="1" height="36" fill="#c0c0c0"/>
<rect x="699" y="637" width="1" height="41" fill="#c0c0c0"/>
<rect x="707" y="637" width="1" height="39" fill="#c0c0c0"/>
<rect x="715" y="637" width="1" height="37" fill="#c0c0c0"/>
<rect x="723" y="637" width="1" height="41" fill="#c0c0c0"/>
<rect x="731" y="637" width="1" height="36" fill="#c0c0c0"/>
<rect x="739" y="637" width="1" height="27" fill="#c0c0c0"/>
<rect x="747" y="637" width="1" height="18" fill="#c0c0c0"/>
<rect x="755" y="637" width="1" height="10" fill="#c0c0c0"/>
<rect x="763" y="637" width="1" height="5" fill="#c0c0c0"/>
<rect x="771" y="636" width="1" height="2" fill="#c0c0c0"/>
<rect x="779" y="632" width="1" height="6" fill="#c0c0c0"/>
<rect x="787" y="633" width="1" height="5" fill="#c0c0c0"/>
<rect x="795" y="632" width="1" height="6" fill="#c0c0c0"/>
<rect x="803" y="627" width="1" height="11" fill="#c0c0c0"/>
<rect x="811" y="626" width="1" height="12" fill="#c0c0c0"/>
<rect x="819" y="631" width="1" height="7" fill="#c0c0c0"/>
<rect x="827" y="635" width="1" height="3" fill="#c0c0c0"/>
<rect x="835" y="637" width="1" height="5" fill="#c0c0c0"/>
<rect x="843" y="637" width="1" height="11" fill="#c0c0c0"/>
<rect x="851" y="637" width="1" height="18" fill="#c0c0c0"/>
<rect x="859" y="637" width="1" height="26" fill="#c0c0c0"/>
<rect x="867" y="637" width="1" height="25" fill="#c0c0c0"/>
<rect x="875" y="637" width="1" height="25" fill="#c0c0c0"/>
<rect x="883" y="637" width="1" height="27" fill="#c0c0c0"/>
<rect x="891" y="637" width="1" height="31" fill="#c0c0c0"/>
<rect x="899" y="637" width="1" height="34" fill="#c0c0c0"/>
<rect x="907" y="637" width="1" height="43" fill="#c0c0c0"/>
<rect x="915" y="637" width="1" height="42" fill="#c0c0c0"/>
<rect x="923" y="637" width="1" height="44" fill="#c0c0c0"/>
<rect x="931" y="637" width="1" height="48" fill="#c0c0c0"/>
<rect x="939" y="637" width="1" height="54" fill="#c0c0c0"/>
<rect x="947" y="637" width="1" height="60" fill="#c0c0c0"/>
<rect x="955" y="637" width="1" height="67" fill="#c0c0c0"/>
<rect x="963" y="637" width="1" height="75" fill="#c0c0c0"/>
<rect x="971" y="637" width="1" height="65" fill="#c0c0c0"/>
<rect x="979" y="637" width="1" height="54" fill="#c0c0c0"/>
<rect x="987" y="637" width="1" height="56" fill="#c0c0c0"/>
<rect x="995" y="637" width="1" height="50" fill="#c0c0c0"/>
<rect x="1003" y="637" width="1" height="45" fill="#c0c0c0"/>
<rect x="1011" y="637" width="1" height="41" fill="#c0c0c0"/>
<rect x="1019" y="637" width="1" height="36" fill="#c0c0c0"/>
<rect x="1027" y="637" width="1" height="34" fill="#c0c0c0"/>
<rect x="1035" y="637" width="1" height="38" fill="#c0c0c0"/>
<rect x="1043" y="637" width="1" height="46" fill="#c0c0c0"/>
<rect x="1051" y="637" width="1" height="54" fill="#c0c0c0"/>
<rect x="1059" y="637" width="1" height="70" fill="#c0c0c0"/>
<rect x="1067" y="637" width="1" height="86" fill="#c0c0c0"/>
<rect x="1075" y="637" width="1" height="96" fill="#c0c0c0"/>
<rect x="1083" y="637" width="1" height="101" fill="#c0c0c0"/>
<rect x="1091" y="637" width="1" height="92" fill="#c0c0c0"/>
<rect x="1099" y="637" width="1" height="84" fill="#c0c0c0"/>
<rect x="1107" y="637" width="1" height="74" fill="#c0c0c0"/>
<rect x="1115" y="637" width="1" height="62" fill="#c0c0c0"/>
<rect x="1123" y="637" width="1" height="45" fill="#c0c0c0"/>
<rect x="1131" y="637" width="1" height="26" fill="#c0c0c0"/>
<rect x="1139" y="637" width="1" height="12" fill="#c0c0c0"/>
<rect x="1147" y="637" width="1" height="12" fill="#c0c0c0"/>
<rect x="1155" y="637" width="1" height="15" fill="#c0c0c0"/>
<rect x="1163" y="637" width="1" height="9" fill="#c0c0c0"/>
<rect x="1171" y="637" width="1" height="1" fill="#c0c0c0"/>
<rect x="1179" y="634" width="1" height="4" fill="#c0c0c0"/>
<rect x="1187" y="632" width="1" height="6" fill="#c0c0c0"/>
<rect x="1195" y="624" width="1" height="14" fill="#c0c0c0"/>
<rect x="1203" y="615" width="1" height="23" fill="#c0c0c0"/>
<rect x="1211" y="615" width="1" height="23" fill="#c0c0c0"/>
<rect x="1219" y="615" width="1" height="23" fill="#c0c0c0"/>
<rect x="1227" y="624" width="1" height="14" fill="#c0c0c0"/>
<rect x="1235" y="633" width="1" height="5" fill="#c0c0c0"/>
<rect x="1243" y="637" width="1" height="1" fill="#c0c0c0"/>
<rect x="1251" y="637" width="1" height="6" fill="#c0c0c0"/>
<rect x="1259" y="637" width="1" height="8" fill="#c0c0c0"/>
<rect x="1267" y="637" width="1" height="7" fill="#c0c0c0"/>
<rect x="1275" y="637" width="1" height="3" fill="#c0c0c0"/>
<rect x="1283" y="636" width="1" height="2" fill="#c0c0c0"/>
<rect x="1291" y="635" width="1" height="3" fill="#c0c0c0"/>
<rect x="1299" y="633" width="1" height="5" fill="#c0c0c0"/>
<rect x="1307" y="634" width="1" height="4" fill="#c0c0c0"/>
<rect x="1315" y="635" width="1" height="3" fill="#c0c0c0"/>
<rect x="1323" y="637" width="1" height="1" fill="#c0c0c0"/>
<rect x="1331" y="637" width="1" height="5" fill="#c0c0c0"/>
<rect x="1339" y="637" width="1" height="12" fill="#c0c0c0"/>
<rect x="1347" y="637" width="1" height="24" fill="#c0c0c0"/>
<rect x="1355" y="637" width="1" height="36" fill="#c0c0c0"/>
<rect x="1363" y="637" width="1" height="49" fill="#c0c0c0"/>
<rect x="1371" y="637" width="1" height="58" fill="#c0c0c0"/>
<rect x="1379" y="637" width="1" height="67" fill="#c0c0c0"/>
<polyline points="0.5,714.5 20.5,716.5 45.5,713.5 60.5,708.5 75.5,702.5 91.5,695.5 108.0,694.5 123.0,696.5 133.0,702.5 148.0,709.5 163.0,717.5 175.5,721.5 188.0,721.5 200.5,717.5 213.0,708.5 225.5,697.5 235.5,683.5 243.0,673.5 255.5,658.5 270.5,643.5 283.0,632.5 295.5,623.5 308.0,615.5 320.5,609.5 333.0,602.5 345.5,599.5 355.5,598.5 365.5,600.5 375.5,604.5 390.5,610.5 400.5,616.5 410.5,620.5 424.5,621.5 439.5,623.5 449.5,621.5 479.5,622.5 499.5,625.5 514.5,625.5 532.0,623.5 547.0,618.5 562.0,611.5 574.5,604.5 587.0,598.5 599.5,593.5 607.0,593.5 617.0,594.5 629.5,599.5 642.0,606.5 654.5,617.5 667.0,629.5 679.5,641.5 692.0,652.5 704.5,661.5 717.0,668.5 729.5,671.5 739.5,673.5 752.0,670.5 762.0,665.5 774.5,658.5 787.0,651.5 799.5,642.5 812.0,636.5 822.0,633.5 837.0,633.5 848.5,636.5 861.0,640.5 873.5,645.5 886.0,652.5 898.5,658.5 911.0,665.5 923.5,670.5 933.5,671.5 948.5,678.5 961.0,687.5 973.5,692.5 986.0,695.5 996.0,695.5 1011.0,693.5 1023.5,688.5 1036.0,683.5 1048.5,680.5 1058.5,682.5 1068.5,687.5 1081.0,695.5 1093.5,706.5 1106.0,713.5 1117.3,716.5 1128.5,713.5 1141.0,702.5 1153.5,686.5 1166.0,671.5 1178.5,657.5 1191.0,646.5 1203.5,637.5 1216.0,631.5 1228.5,626.5 1240.5,625.5 1248.0,625.5 1258.0,627.5 1268.0,630.5 1280.5,633.5 1290.5,637.5 1305.5,638.5 1323.0,638.5 1335.5,638.5 1345.5,640.5 1355.5,645.5 1365.5,653.5 1373.0,659.5 1379.5,665.5" fill="none" stroke="#ff0000" stroke-width="1" stroke-dasharray="3 3"/>
<line x1="0" y1="783.5" x2="1645" y2="783.5" stroke="#c0c0c0" stroke-width="1" stroke-dasharray="3 3"/>
<line x1="0" y1="834.5" x2="1645" y2="834.5" stroke="#c0c0c0" stroke-width="1" stroke-dasharray="3 3"/>
<line x1="0" y1="895.5" x2="1645" y2="895.5" stroke="#c0c0c0" stroke-width="1" stroke-dasharray="3 3"/>
<polyline points="-4.5,845.5 3.5,853.5 11.5,850.5 19.5,856.5 27.5,842.5 35.5,843.5 43.5,846.5 51.5,847.5 59.5,836.5 67.5,836.5 75.5,840.5 83.5,851.5 91.5,841.5 99.5,864.5 107.5,855.5 115.5,846.5 123.5,853.5 131.5,849.5 139.5,850.5 147.5,846.5 155.5,851.5 163.5,855.5 171.5,845.5 179.5,847.5 187.5,841.5 195.5,827.5 203.5,834.5 211.5,832.5 219.5,828.5 227.5,824.5 235.5,823.5 243.5,830.5 251.5,830.5 259.5,830.5 267.5,830.5 275.5,828.5 283.5,823.5 291.5,814.5 299.5,813.5 307.5,818.5 315.5,819.5 323.5,817.5 331.5,832.5 339.5,830.5 347.5,833.5 355.5,837.5 363.5,838.5 371.5,844.5 379.5,836.5 387.5,828.5 395.5,829.5 403.5,829.5 411.5,822.5 419.5,820.5 427.5,829.5 435.5,836.5 443.5,838.5 451.5,828.5 459.5,831.5 467.5,832.5 475.5,829.5 483.5,828.5 491.5,831.5 499.5,833.5 507.5,823.5 515.5,820.5 523.5,816.5 531.5,808.5 539.5,807.5 547.5,804.5 555.5,800.5 563.5,796.5 571.5,794.5 579.5,815.5 587.5,812.5 595.5,822.5 603.5,833.5 611.5,841.5 619.5,846.5 627.5,850.5 635.5,850.5 643.5,838.5 651.5,860.5 659.5,864.5 667.5,852.5 675.5,850.5 683.5,858.5 691.5,847.5 699.5,855.5 707.5,846.5 715.5,842.5 723.5,851.5 731.5,835.5 739.5,831.5 747.5,826.5 755.5,825.5 763.5,827.5 771.5,824.5 779.5,826.5 787.5,835.5 795.5,831.5 803.5,823.5 811.5,827.5 819.5,842.5 827.5,840.5 835.5,848.5 843.5,849.5 851.5,855.5 859.5,858.5 867.5,841.5 875.5,843.5 883.5,848.5 891.5,853.5 899.5,852.5 907.5,863.5 915.5,846.5 923.5,851.5 931.5,855.5 939.5,861.5 947.5,862.5 955.5,866.5 963.5,870.5 971.5,837.5 979.5,835.5 987.5,849.5 995.5,840.5 1003.5,838.5 1011.5,839.5 1019.5,836.5 1027.5,841.5 1035.5,850.5 1043.5,856.5 1051.5,860.5 1059.5,870.5 1067.5,873.5 1075.5,870.5 1083.5,866.5 1091.5,846.5 1099.5,844.5 1107.5,839.5 1115.5,835.5 1123.5,825.5 1131.5,818.5 1139.5,819.5 1147.5,837.5 1155.5,841.5 1163.5,830.5 1171.5,828.5 1179.5,827.5 1187.5,831.5 1195.5,823.5 1203.5,819.5 1211.5,829.5 1219.5,829.5 1227.5,843.5 1235.5,844.5 1243.5,840.5 1251.5,844.5 1259.5,839.5 1267.5,835.5 1275.5,830.5 1283.5,830.5 1291.5,829.5 1299.5,831.5 1307.5,837.5 1315.5,835.5 1323.5,844.5 1331.5,849.5 1339.5,841.5 1347.5,863.5 1355.5,859.5 1363.5,862.5 1371.5,863.5 1379.5,865.5" fill="none" stroke="#1e90ff" stroke-width="1"/>
<rect x="0" y="20" width="1647" height="1" fill="#000"/>
<rect x="1646" y="20" width="1" height="902" fill="#000"/>
<rect x="0" y="573" width="1647" height="1" fill="#000"/>
<rect x="0" y="575" width="1647" height="1" fill="#000"/>
<rect x="0" y="745" width="1647" height="1" fill="#000"/>
<rect x="0" y="747" width="1647" height="1" fill="#000"/>
<rect x="0" y="921" width="1647" height="1" fill="#000"/>
<rect x="1692" y="17" width="1" height="922" fill="#e2e2e2"/>
<rect x="1693" y="17" width="1" height="922" fill="#f2f2f2"/>
</g>
<rect x="1647" y="42" width="2" height="1" fill="#000" shape-rendering="crispEdges"/>
<text x="1652.2" y="46" font-family="Liberation Sans, sans-serif" font-size="10" fill="#000" text-anchor="start" font-weight="normal" textLength="32.8" lengthAdjust="spacingAndGlyphs">27892.0</text>
<rect x="1647" y="75" width="2" height="1" fill="#000" shape-rendering="crispEdges"/>
<text x="1652.2" y="79" font-family="Liberation Sans, sans-serif" font-size="10" fill="#000" text-anchor="start" font-weight="normal" textLength="32.8" lengthAdjust="spacingAndGlyphs">27739.0</text>
<rect x="1647" y="108" width="2" height="1" fill="#000" shape-rendering="crispEdges"/>
<text x="1652.2" y="112" font-family="Liberation Sans, sans-serif" font-size="10" fill="#000" text-anchor="start" font-weight="normal" textLength="32.8" lengthAdjust="spacingAndGlyphs">27590.5</text>
<rect x="1647" y="141" width="2" height="1" fill="#000" shape-rendering="crispEdges"/>
<text x="1652.2" y="145" font-family="Liberation Sans, sans-serif" font-size="10" fill="#000" text-anchor="start" font-weight="normal" textLength="32.8" lengthAdjust="spacingAndGlyphs">27437.5</text>
<rect x="1647" y="174" width="2" height="1" fill="#000" shape-rendering="crispEdges"/>
<text x="1652.2" y="178" font-family="Liberation Sans, sans-serif" font-size="10" fill="#000" text-anchor="start" font-weight="normal" textLength="32.8" lengthAdjust="spacingAndGlyphs">27289.0</text>
<rect x="1647" y="207" width="2" height="1" fill="#000" shape-rendering="crispEdges"/>
<text x="1652.2" y="211" font-family="Liberation Sans, sans-serif" font-size="10" fill="#000" text-anchor="start" font-weight="normal" textLength="32.8" lengthAdjust="spacingAndGlyphs">27140.5</text>
<rect x="1647" y="240" width="2" height="1" fill="#000" shape-rendering="crispEdges"/>
<text x="1652.2" y="244" font-family="Liberation Sans, sans-serif" font-size="10" fill="#000" text-anchor="start" font-weight="normal" textLength="32.8" lengthAdjust="spacingAndGlyphs">26987.5</text>
<rect x="1647" y="273" width="2" height="1" fill="#000" shape-rendering="crispEdges"/>
<text x="1652.2" y="277" font-family="Liberation Sans, sans-serif" font-size="10" fill="#000" text-anchor="start" font-weight="normal" textLength="32.8" lengthAdjust="spacingAndGlyphs">26839.0</text>
<rect x="1647" y="306" width="2" height="1" fill="#000" shape-rendering="crispEdges"/>
<text x="1652.2" y="310" font-family="Liberation Sans, sans-serif" font-size="10" fill="#000" text-anchor="start" font-weight="normal" textLength="32.8" lengthAdjust="spacingAndGlyphs">26686.0</text>
<rect x="1647" y="339" width="2" height="1" fill="#000" shape-rendering="crispEdges"/>
<text x="1652.2" y="343" font-family="Liberation Sans, sans-serif" font-size="10" fill="#000" text-anchor="start" font-weight="normal" textLength="32.8" lengthAdjust="spacingAndGlyphs">26537.5</text>
<rect x="1647" y="372" width="2" height="1" fill="#000" shape-rendering="crispEdges"/>
<text x="1652.2" y="376" font-family="Liberation Sans, sans-serif" font-size="10" fill="#000" text-anchor="start" font-weight="normal" textLength="32.8" lengthAdjust="spacingAndGlyphs">26384.5</text>
<rect x="1647" y="405" width="2" height="1" fill="#000" shape-rendering="crispEdges"/>
<text x="1652.2" y="409" font-family="Liberation Sans, sans-serif" font-size="10" fill="#000" text-anchor="start" font-weight="normal" textLength="32.8" lengthAdjust="spacingAndGlyphs">26236.0</text>
<rect x="1647" y="438" width="2" height="1" fill="#000" shape-rendering="crispEdges"/>
<text x="1652.2" y="442" font-family="Liberation Sans, sans-serif" font-size="10" fill="#000" text-anchor="start" font-weight="normal" textLength="32.8" lengthAdjust="spacingAndGlyphs">26083.0</text>
<rect x="1647" y="471" width="2" height="1" fill="#000" shape-rendering="crispEdges"/>
<text x="1652.2" y="475" font-family="Liberation Sans, sans-serif" font-size="10" fill="#000" text-anchor="start" font-weight="normal" textLength="32.8" lengthAdjust="spacingAndGlyphs">25934.5</text>
<rect x="1647" y="504" width="2" height="1" fill="#000" shape-rendering="crispEdges"/>
<text x="1652.2" y="508" font-family="Liberation Sans, sans-serif" font-size="10" fill="#000" text-anchor="start" font-weight="normal" textLength="32.8" lengthAdjust="spacingAndGlyphs">25781.5</text>
<rect x="1647" y="537" width="2" height="1" fill="#000" shape-rendering="crispEdges"/>
<text x="1652.2" y="541" font-family="Liberation Sans, sans-serif" font-size="10" fill="#000" text-anchor="start" font-weight="normal" textLength="32.8" lengthAdjust="spacingAndGlyphs">25633.0</text>
<rect x="1647" y="570" width="2" height="1" fill="#000" shape-rendering="crispEdges"/>
<text x="1652.2" y="574" font-family="Liberation Sans, sans-serif" font-size="10" fill="#000" text-anchor="start" font-weight="normal" textLength="32.8" lengthAdjust="spacingAndGlyphs">25484.5</text>
<text x="1650.2" y="586" font-family="Liberation Sans, sans-serif" font-size="10" fill="#000" text-anchor="start" font-weight="normal" textLength="27.4" lengthAdjust="spacingAndGlyphs">165.71</text>
<text x="1650.2" y="641" font-family="Liberation Sans, sans-serif" font-size="10" fill="#000" text-anchor="start" font-weight="normal" textLength="17.5" lengthAdjust="spacingAndGlyphs">0.00</text>
<text x="1650.2" y="742" font-family="Liberation Sans, sans-serif" font-size="10" fill="#000" text-anchor="start" font-weight="normal" textLength="25.6" lengthAdjust="spacingAndGlyphs">-297.3</text>
<text x="1650.2" y="758" font-family="Liberation Sans, sans-serif" font-size="10" fill="#000" text-anchor="start" font-weight="normal" textLength="14.9" lengthAdjust="spacingAndGlyphs">100</text>
<text x="1649.3" y="787" font-family="Liberation Sans, sans-serif" font-size="10" fill="#000" text-anchor="start" font-weight="normal" textLength="9.7" lengthAdjust="spacingAndGlyphs">80</text>
<text x="1649.3" y="838" font-family="Liberation Sans, sans-serif" font-size="10" fill="#000" text-anchor="start" font-weight="normal" textLength="9.7" lengthAdjust="spacingAndGlyphs">50</text>
<text x="1649.3" y="899" font-family="Liberation Sans, sans-serif" font-size="10" fill="#000" text-anchor="start" font-weight="normal" textLength="9.7" lengthAdjust="spacingAndGlyphs">15</text>
<text x="1650" y="918" font-family="Liberation Sans, sans-serif" font-size="10" fill="#000" text-anchor="start" font-weight="normal" textLength="5.1" lengthAdjust="spacingAndGlyphs">0</text>
<rect x="1647" y="577" width="1" height="1" fill="#000" shape-rendering="crispEdges"/>
<rect x="1647" y="637" width="1" height="1" fill="#000" shape-rendering="crispEdges"/>
<rect x="1647" y="744" width="1" height="1" fill="#000" shape-rendering="crispEdges"/>
<rect x="1647" y="749" width="1" height="1" fill="#000" shape-rendering="crispEdges"/>
<rect x="1647" y="920" width="1" height="1" fill="#000" shape-rendering="crispEdges"/>
<g shape-rendering="crispEdges">
<rect x="1648" y="421" width="41" height="11" fill="#ff0000"/>
<rect x="1641" y="425" width="5" height="5" fill="#ff0000"/>
<rect x="1642" y="426" width="3" height="3" fill="#fff"/>
</g>
<text x="1652.2" y="430" font-family="Liberation Sans, sans-serif" font-size="10" fill="#fff" text-anchor="start" font-weight="normal" textLength="32.6" lengthAdjust="spacingAndGlyphs">26135.9</text>
<g shape-rendering="crispEdges">
<rect x="1648" y="458" width="41" height="11" fill="#ff0000"/>
<rect x="1641" y="462" width="5" height="5" fill="#ff0000"/>
<rect x="1642" y="463" width="3" height="3" fill="#fff"/>
</g>
<text x="1652.2" y="467" font-family="Liberation Sans, sans-serif" font-size="10" fill="#fff" text-anchor="start" font-weight="normal" textLength="32.6" lengthAdjust="spacingAndGlyphs">25967.4</text>
<g shape-rendering="crispEdges">
<rect x="1648" y="489" width="41" height="11" fill="#32cd32"/>
<rect x="1641" y="493" width="5" height="5" fill="#32cd32"/>
<rect x="1642" y="494" width="3" height="3" fill="#fff"/>
</g>
<text x="1652.2" y="498" font-family="Liberation Sans, sans-serif" font-size="10" fill="#fff" text-anchor="start" font-weight="normal" textLength="32.6" lengthAdjust="spacingAndGlyphs">25826.2</text>
<g shape-rendering="crispEdges">
<rect x="1648" y="535" width="41" height="11" fill="#0000ff"/>
<rect x="1641" y="539" width="5" height="5" fill="#0000ff"/>
<rect x="1642" y="540" width="3" height="3" fill="#fff"/>
</g>
<text x="1652.2" y="544" font-family="Liberation Sans, sans-serif" font-size="10" fill="#fff" text-anchor="start" font-weight="normal" textLength="32.6" lengthAdjust="spacingAndGlyphs">25616.7</text>
<g shape-rendering="crispEdges">
<rect x="1648" y="560" width="41" height="11" fill="#0000ff"/>
<rect x="1641" y="564" width="5" height="5" fill="#0000ff"/>
<rect x="1642" y="565" width="3" height="3" fill="#fff"/>
</g>
<text x="1652.2" y="569" font-family="Liberation Sans, sans-serif" font-size="10" fill="#fff" text-anchor="start" font-weight="normal" textLength="32.6" lengthAdjust="spacingAndGlyphs">25502.9</text>
<g shape-rendering="crispEdges">
<rect x="1648" y="505" width="41" height="11" fill="#000"/>
</g>
<text x="1652.2" y="514" font-family="Liberation Sans, sans-serif" font-size="10" fill="#fff" text-anchor="start" font-weight="normal" textLength="32.6" lengthAdjust="spacingAndGlyphs">25757.5</text>
<text x="-13" y="934" font-family="Liberation Sans, sans-serif" font-size="10" fill="#000" text-anchor="start" font-weight="normal" textLength="48.5" lengthAdjust="spacingAndGlyphs">25 Jan 2022</text>
<rect x="51" y="922" width="1" height="3" fill="#000" shape-rendering="crispEdges"/>
<text x="50" y="934" font-family="Liberation Sans, sans-serif" font-size="10" fill="#000" text-anchor="start" font-weight="normal" textLength="53" lengthAdjust="spacingAndGlyphs">26 Jan 00:00</text>
<rect x="115" y="922" width="1" height="3" fill="#000" shape-rendering="crispEdges"/>
<text x="114" y="934" font-family="Liberation Sans, sans-serif" font-size="10" fill="#000" text-anchor="start" font-weight="normal" textLength="53" lengthAdjust="spacingAndGlyphs">27 Jan 10:55</text>
<rect x="179" y="922" width="1" height="3" fill="#000" shape-rendering="crispEdges"/>
<text x="178" y="934" font-family="Liberation Sans, sans-serif" font-size="10" fill="#000" text-anchor="start" font-weight="normal" textLength="53" lengthAdjust="spacingAndGlyphs">28 Jan 18:55</text>
<rect x="243" y="922" width="1" height="3" fill="#000" shape-rendering="crispEdges"/>
<text x="242" y="934" font-family="Liberation Sans, sans-serif" font-size="10" fill="#000" text-anchor="start" font-weight="normal" textLength="48.5" lengthAdjust="spacingAndGlyphs">1 Feb 00:00</text>
<rect x="307" y="922" width="1" height="3" fill="#000" shape-rendering="crispEdges"/>
<text x="306" y="934" font-family="Liberation Sans, sans-serif" font-size="10" fill="#000" text-anchor="start" font-weight="normal" textLength="48.5" lengthAdjust="spacingAndGlyphs">2 Feb 10:55</text>
<rect x="371" y="922" width="1" height="3" fill="#000" shape-rendering="crispEdges"/>
<text x="370" y="934" font-family="Liberation Sans, sans-serif" font-size="10" fill="#000" text-anchor="start" font-weight="normal" textLength="48.5" lengthAdjust="spacingAndGlyphs">3 Feb 18:55</text>
<rect x="435" y="922" width="1" height="3" fill="#000" shape-rendering="crispEdges"/>
<text x="434" y="934" font-family="Liberation Sans, sans-serif" font-size="10" fill="#000" text-anchor="start" font-weight="normal" textLength="48.5" lengthAdjust="spacingAndGlyphs">7 Feb 00:00</text>
<rect x="499" y="922" width="1" height="3" fill="#000" shape-rendering="crispEdges"/>
<text x="498" y="934" font-family="Liberation Sans, sans-serif" font-size="10" fill="#000" text-anchor="start" font-weight="normal" textLength="48.5" lengthAdjust="spacingAndGlyphs">8 Feb 10:55</text>
<rect x="563" y="922" width="1" height="3" fill="#000" shape-rendering="crispEdges"/>
<text x="562" y="934" font-family="Liberation Sans, sans-serif" font-size="10" fill="#000" text-anchor="start" font-weight="normal" textLength="48.5" lengthAdjust="spacingAndGlyphs">9 Feb 18:55</text>
<rect x="627" y="922" width="1" height="3" fill="#000" shape-rendering="crispEdges"/>
<text x="626" y="934" font-family="Liberation Sans, sans-serif" font-size="10" fill="#000" text-anchor="start" font-weight="normal" textLength="53" lengthAdjust="spacingAndGlyphs">11 Feb 00:00</text>
<rect x="691" y="922" width="1" height="3" fill="#000" shape-rendering="crispEdges"/>
<text x="690" y="934" font-family="Liberation Sans, sans-serif" font-size="10" fill="#000" text-anchor="start" font-weight="normal" textLength="53" lengthAdjust="spacingAndGlyphs">14 Feb 10:55</text>
<rect x="755" y="922" width="1" height="3" fill="#000" shape-rendering="crispEdges"/>
<text x="754" y="934" font-family="Liberation Sans, sans-serif" font-size="10" fill="#000" text-anchor="start" font-weight="normal" textLength="53" lengthAdjust="spacingAndGlyphs">15 Feb 18:55</text>
<rect x="819" y="922" width="1" height="3" fill="#000" shape-rendering="crispEdges"/>
<text x="818" y="934" font-family="Liberation Sans, sans-serif" font-size="10" fill="#000" text-anchor="start" font-weight="normal" textLength="53" lengthAdjust="spacingAndGlyphs">17 Feb 00:00</text>
<rect x="883" y="922" width="1" height="3" fill="#000" shape-rendering="crispEdges"/>
<text x="882" y="934" font-family="Liberation Sans, sans-serif" font-size="10" fill="#000" text-anchor="start" font-weight="normal" textLength="53" lengthAdjust="spacingAndGlyphs">18 Feb 10:55</text>
<rect x="947" y="922" width="1" height="3" fill="#000" shape-rendering="crispEdges"/>
<text x="946" y="934" font-family="Liberation Sans, sans-serif" font-size="10" fill="#000" text-anchor="start" font-weight="normal" textLength="53" lengthAdjust="spacingAndGlyphs">21 Feb 18:55</text>
<rect x="1011" y="922" width="1" height="3" fill="#000" shape-rendering="crispEdges"/>
<text x="1010" y="934" font-family="Liberation Sans, sans-serif" font-size="10" fill="#000" text-anchor="start" font-weight="normal" textLength="53" lengthAdjust="spacingAndGlyphs">23 Feb 00:00</text>
<rect x="1075" y="922" width="1" height="3" fill="#000" shape-rendering="crispEdges"/>
<text x="1074" y="934" font-family="Liberation Sans, sans-serif" font-size="10" fill="#000" text-anchor="start" font-weight="normal" textLength="53" lengthAdjust="spacingAndGlyphs">24 Feb 10:55</text>
<rect x="1139" y="922" width="1" height="3" fill="#000" shape-rendering="crispEdges"/>
<text x="1138" y="934" font-family="Liberation Sans, sans-serif" font-size="10" fill="#000" text-anchor="start" font-weight="normal" textLength="53" lengthAdjust="spacingAndGlyphs">25 Feb 18:55</text>
<rect x="1203" y="922" width="1" height="3" fill="#000" shape-rendering="crispEdges"/>
<text x="1202" y="934" font-family="Liberation Sans, sans-serif" font-size="10" fill="#000" text-anchor="start" font-weight="normal" textLength="48.5" lengthAdjust="spacingAndGlyphs">1 Mar 00:00</text>
<rect x="1267" y="922" width="1" height="3" fill="#000" shape-rendering="crispEdges"/>
<text x="1266" y="934" font-family="Liberation Sans, sans-serif" font-size="10" fill="#000" text-anchor="start" font-weight="normal" textLength="48.5" lengthAdjust="spacingAndGlyphs">2 Mar 10:55</text>
<rect x="1331" y="922" width="1" height="3" fill="#000" shape-rendering="crispEdges"/>
<text x="1330" y="934" font-family="Liberation Sans, sans-serif" font-size="10" fill="#000" text-anchor="start" font-weight="normal" textLength="48.5" lengthAdjust="spacingAndGlyphs">3 Mar 18:55</text>
<text x="1.8" y="32" font-family="Liberation Sans, sans-serif" font-size="10" fill="#000" text-anchor="start" font-weight="normal" textLength="50.2" lengthAdjust="spacingAndGlyphs">JPN225-,H4</text>
<text x="58" y="32" font-family="Liberation Sans, sans-serif" font-size="10" fill="#000" text-anchor="start" font-weight="normal" textLength="141" lengthAdjust="spacingAndGlyphs">25835.0 25835.0 25707.5 25757.5</text>
<text x="0.3" y="588" font-family="Liberation Sans, sans-serif" font-size="10" fill="#000" text-anchor="start" font-weight="normal" textLength="119.4" lengthAdjust="spacingAndGlyphs">ACD(12,26,9) -182.07 -79.34</text>
<text x="-3.5" y="760" font-family="Liberation Sans, sans-serif" font-size="10" fill="#000" text-anchor="start" font-weight="normal" textLength="62.4" lengthAdjust="spacingAndGlyphs">SI(14) 31.9866</text>
<g shape-rendering="crispEdges">
<rect x="1391" y="21" width="9" height="1" fill="#c0c0c0"/>
<rect x="1392" y="22" width="7" height="1" fill="#c0c0c0"/>
<rect x="1393" y="23" width="5" height="1" fill="#c0c0c0"/>
<rect x="1394" y="24" width="3" height="1" fill="#c0c0c0"/>
<rect x="1395" y="25" width="1" height="1" fill="#c0c0c0"/>
</g>
<g shape-rendering="crispEdges">
<rect x="1132.5" y="225.5" width="61" height="18" fill="#fff" stroke="#ff0000" stroke-width="1"/>
<rect x="1194" y="234" width="10" height="1" fill="#ff0000"/>
</g>
<text x="1134.6" y="241" font-family="Liberation Sans, sans-serif" font-size="16.4" fill="#ff0000" text-anchor="start" font-weight="normal" textLength="57.5" lengthAdjust="spacingAndGlyphs">27013.8</text>
<g shape-rendering="crispEdges">
<rect x="1212.5" y="486.5" width="61" height="18" fill="#fff" stroke="#ff0000" stroke-width="1"/>
<rect x="1274" y="495" width="9" height="1" fill="#ff0000"/>
</g>
<text x="1214.6" y="502" font-family="Liberation Sans, sans-serif" font-size="16.4" fill="#ff0000" text-anchor="start" font-weight="normal" textLength="57.5" lengthAdjust="spacingAndGlyphs">25826.2</text>
<g shape-rendering="crispEdges">
<rect x="1308.5" y="513.5" width="61" height="18" fill="#fff" stroke="#ff0000" stroke-width="1"/>
<rect x="1370" y="522" width="10" height="1" fill="#ff0000"/>
</g>
<text x="1310.6" y="529" font-family="Liberation Sans, sans-serif" font-size="16.4" fill="#ff0000" text-anchor="start" font-weight="normal" textLength="57.5" lengthAdjust="spacingAndGlyphs">25703.3</text>
<g shape-rendering="crispEdges">
<rect x="996.5" y="551.5" width="61" height="18" fill="#fff" stroke="#ff0000" stroke-width="1"/>
<rect x="1058" y="560" width="10" height="1" fill="#ff0000"/>
</g>
<text x="998.6" y="567" font-family="Liberation Sans, sans-serif" font-size="16.4" fill="#ff0000" text-anchor="start" font-weight="normal" textLength="57.5" lengthAdjust="spacingAndGlyphs">25530.2</text>
<g shape-rendering="crispEdges">
<rect x="1274" y="493" width="4" height="4" fill="#ff0000"/>
<rect x="1275" y="494" width="2" height="2" fill="#fff"/>
<rect x="1370" y="520" width="4" height="4" fill="#ff0000"/>
<rect x="1371" y="521" width="2" height="2" fill="#fff"/>
<rect x="1059" y="558" width="4" height="4" fill="#ff0000"/>
<rect x="1060" y="559" width="2" height="2" fill="#fff"/>
</g>
<line x1="1300" y1="310" x2="1382.8" y2="512.8" stroke="#ff0000" stroke-width="3"/>
<path d="M1387 523L1378.2 514.7L1387.5 510.9z" fill="#ff0000"/>
<line x1="1322.5" y1="632" x2="1380.5" y2="712.1" stroke="#ff0000" stroke-width="3"/>
<path d="M1387 721L1376.5 715.0L1384.6 709.2z" fill="#ff0000"/>
<line x1="1302.5" y1="838" x2="1374.4" y2="857.6" stroke="#ff0000" stroke-width="3"/>
<path d="M1385 860.5L1373.1 862.4L1375.7 852.8z" fill="#ff0000"/>
</svg>
<svg width="1694" height="20" viewBox="0 0 1694 20" style="position:absolute;left:0;top:0">
<defs>
<linearGradient id="gold" x1="0" y1="0" x2="1" y2="1"><stop offset="0" stop-color="#f6d060"/><stop offset="1" stop-color="#c88a10"/></linearGradient>
<linearGradient id="lens" x1="0" y1="0" x2="0" y2="1"><stop offset="0" stop-color="#e6f3ff"/><stop offset="1" stop-color="#a8d0f4"/></linearGradient>
<linearGradient id="grn" x1="0" y1="0" x2="0" y2="1"><stop offset="0" stop-color="#7cf080"/><stop offset="0.5" stop-color="#10d020"/><stop offset="1" stop-color="#10a018"/></linearGradient>
<radialGradient id="badge" cx="0.4" cy="0.3" r="0.8"><stop offset="0" stop-color="#f05030"/><stop offset="1" stop-color="#d01808"/></radialGradient>
<g id="axes" fill="none" stroke="#555" stroke-width="1" shape-rendering="crispEdges"><path d="M2.5 0V12M0 9.5H14"/><path d="M12.5 8v3M13.5 9v1" /></g>
<path id="dd" d="M0 0h6l-3 3z" fill="#000"/>
<g id="grip" fill="#b8b8b8" shape-rendering="crispEdges"><rect x="0" y="0" width="3" height="1"/><rect x="0" y="2" width="3" height="1"/><rect x="0" y="4" width="3" height="1"/><rect x="0" y="6" width="3" height="1"/><rect x="0" y="8" width="3" height="1"/><rect x="0" y="10" width="3" height="1"/><rect x="0" y="12" width="3" height="1"/></g>
</defs>
<rect x="0" y="0" width="1694" height="16" fill="#f0f0f0"/>
<rect x="0" y="15" width="1694" height="1" fill="#f5f5f5"/>
<rect x="0" y="16" width="1693" height="1" fill="#a6a6a6"/>
<rect x="0" y="17" width="1693" height="1" fill="#6a6a6a"/>
<rect x="0" y="18" width="1694" height="2" fill="#fff"/>
<rect x="14" y="16" width="1" height="3" fill="#222"/>
<g shape-rendering="crispEdges" fill="#a8a8a8">
<rect x="7" y="0" width="1" height="14"/><rect x="296" y="0" width="1" height="16"/><rect x="334" y="0" width="1" height="14"/><rect x="391" y="0" width="1" height="14"/>
<rect x="481" y="0" width="1" height="14"/><rect x="486" y="0" width="1" height="14"/><rect x="514" y="0" width="1" height="14"/><rect x="543" y="0" width="1" height="14"/>
<rect x="664" y="0" width="1" height="16"/><rect x="674" y="0" width="1" height="14"/><rect x="731" y="0" width="1" height="14"/><rect x="970" y="0" width="1" height="16"/>
<rect x="1120" y="0" width="1" height="14"/><rect x="1231" y="0" width="1" height="16"/>
</g>
<use href="#grip" x="299" y="0"/><use href="#grip" x="667" y="0"/><use href="#grip" x="974" y="0"/>
<!-- selected backgrounds -->
<g fill="#f8f8f8"><rect x="335" y="0" width="24" height="13"/><rect x="487" y="0" width="25" height="13"/><rect x="516" y="0" width="24" height="13"/><rect x="675" y="0" width="23" height="13"/><rect x="1121" y="0" width="24" height="13"/></g>
<!-- new order -->
<path d="M17.5 -2h9.5v10.5h-8q-1.500 0 -1.500 -1.500z" fill="#fff" stroke="#999"/>
<path d="M19 2h5M19 4h4" stroke="#aaa" stroke-width="1"/>
<path d="M25 2.300h4.200v3.300h3.600v4h-3.600v3.800h-4.200v-3.800h-3.600v-4h3.600z" fill="url(#grn)" stroke="#0a8a14" stroke-width="0.800"/>
<text x="36.500" y="6.600" font-family="Liberation Sans, sans-serif" font-size="13.2" fill="#0a0a20" textLength="64.500" lengthAdjust="spacingAndGlyphs">New Order</text>
<!-- book -->
<path d="M113 4.500L121 -3L129.500 4L121.500 11.500z" fill="url(#gold)" stroke="#a87008" stroke-width="0.800"/>
<path d="M114 6L121.500 12.500L129 6" fill="none" stroke="#b07a10" stroke-width="1"/>
<!-- cloud -->
<rect x="144" y="-2" width="10" height="7" fill="#3f86e0"/><rect x="146" y="0" width="2.500" height="2" fill="#dbeaff"/><rect x="150" y="0" width="2.500" height="2" fill="#dbeaff"/>
<path d="M144 11.500a3 3 0 0 1 0 -6a4.500 4.500 0 0 1 8 -1a3.500 3.500 0 0 1 2.500 7z" fill="#e4ecf8" stroke="#7d9cc8" stroke-width="1"/>
<!-- signal -->
<g fill="none" stroke-width="1.300"><path d="M171 -3a8 8 0 0 0 2 11" stroke="#7c9fe0"/><path d="M173.500 -2a5 5 0 0 0 1.500 7.500" stroke="#5b85dc"/><path d="M183 -3a8 8 0 0 1 -4.500 13" stroke="#58b058" stroke-width="2.400"/><path d="M180.500 -1a4 4 0 0 1 -1 6" stroke="#6cc06c" stroke-width="1.600"/></g>
<circle cx="177" cy="3" r="1.700" fill="#2f6fe0"/><rect x="176.400" y="4" width="1.500" height="7.500" fill="#2aa02a"/>
<!-- autotrading -->
<ellipse cx="204" cy="-0.500" rx="7.500" ry="3" fill="#58a8e0" stroke="#2a70b0" stroke-width="0.800"/>
<path d="M196.500 2h14l-3 8.500h-7z" fill="#f4cc40" stroke="#c89810" stroke-width="0.600"/>
<circle cx="208.500" cy="7.700" r="4.200" fill="#e02010"/><rect x="206.800" y="6" width="3.400" height="3.400" fill="#fff"/>
<text x="217" y="6.600" font-family="Liberation Sans, sans-serif" font-size="13.2" fill="#0a0a20" textLength="71" lengthAdjust="spacingAndGlyphs">AutoTrading</text>
<!-- chart type icons -->
<use href="#axes" x="312" y="0"/><path d="M318.500 6.500h2v-6h2.500" fill="none" stroke="#18a030" stroke-width="1.500"/>
<use href="#axes" x="340" y="0"/><rect x="346.500" y="-2" width="4.500" height="7.500" fill="#20c030" stroke="#0c8018" stroke-width="0.800"/><rect x="348.300" y="5.500" width="1" height="2.500" fill="#0c8018"/>
<use href="#axes" x="368" y="0"/><path d="M369.500 7q4 -8 7 -5.500q2.500 2 4.500 3.500" fill="none" stroke="#18a030" stroke-width="1.300"/>
<!-- zoom in/out -->
<g><path d="M410 6l5 5" stroke="#c89a20" stroke-width="3" stroke-linecap="round"/><path d="M410 6l5 5" stroke="#f0d060" stroke-width="1.200" stroke-linecap="round"/><circle cx="405.600" cy="1.800" r="5.600" fill="url(#lens)" stroke="#3c80cc" stroke-width="1.300"/><path d="M402.500 2h6.400M405.700 -1v6.200" stroke="#2c68c0" stroke-width="1.700"/></g>
<g><path d="M439 6l5 5" stroke="#c89a20" stroke-width="3" stroke-linecap="round"/><path d="M439 6l5 5" stroke="#f0d060" stroke-width="1.200" stroke-linecap="round"/><circle cx="434.400" cy="1.800" r="5.600" fill="url(#lens)" stroke="#3c80cc" stroke-width="1.300"/><path d="M431.300 2h6.400" stroke="#2c68c0" stroke-width="1.700"/></g>
<!-- tile icon -->
<g><rect x="456" y="-2" width="7.500" height="5.400" fill="#58b030"/><rect x="464.200" y="-2" width="7.600" height="5.400" fill="#3068e0"/><rect x="456" y="4.400" width="7.500" height="7.600" fill="#3068e0"/><rect x="464.200" y="4.400" width="7.600" height="7.600" fill="#58b030"/>
<rect x="457.500" y="0" width="4.500" height="2" fill="#e8f4e0"/><rect x="465.700" y="0" width="4.500" height="2" fill="#e0e8ff"/><rect x="457.500" y="7.500" width="4.500" height="3" fill="#e0e8ff"/><rect x="465.700" y="7.500" width="4.500" height="3" fill="#e8f4e0"/></g>
<!-- shift / autoscroll -->
<use href="#axes" x="492" y="0"/><path d="M499.500 -1v7l4.500 -3.500z" fill="#40d040" stroke="#189018" stroke-width="0.800"/>
<use href="#axes" x="520" y="0"/><rect x="528" y="0" width="1" height="8" fill="#2860c0"/><path d="M530 3.500l3.500 -2.500v5z" fill="#e04010"/><rect x="532" y="3" width="2.500" height="1" fill="#e04010"/>
<!-- indicators -->
<path d="M553.500 -2h9v10.500h-7.500q-1.500 0 -1.500 -1.500z" fill="#fff" stroke="#999"/><path d="M556 1h3" stroke="#999"/>
<path d="M561 2.500h4.600v3h3.300v4h-3.300v3.500h-4.600v-3.500h-3.400v-4h3.400z" fill="url(#grn)" stroke="#0a8a14" stroke-width="0.800"/>
<use href="#dd" x="574.500" y="3.300"/>
<!-- clock -->
<circle cx="598.800" cy="3.800" r="6.700" fill="#f0f0f0" stroke="#2060c8" stroke-width="2.200"/><circle cx="598.800" cy="3.800" r="4.800" fill="none" stroke="#c8c8c8" stroke-width="0.800"/><path d="M598.800 0v4.500h3" fill="none" stroke="#555" stroke-width="1"/>
<use href="#dd" x="613.500" y="3.300"/>
<!-- templates -->
<rect x="630.500" y="-2" width="15" height="12.500" fill="#fff" stroke="#3876c8" stroke-width="1.200"/><path d="M631 5.500h14" stroke="#3876c8" stroke-width="1"/>
<path d="M632.500 3l3 -1l3 .5l3 -1.500l2.500 -.5" fill="none" stroke="#c03020" stroke-width="1"/><path d="M632.500 8.500l3 -1l2 1l3 -2l3 1.500" fill="none" stroke="#20a030" stroke-width="1"/>
<use href="#dd" x="652.500" y="3.300"/>
<!-- cursor -->
<path d="M682 -3l0 11.500l2.800 -2.600l2.400 5.200l2 -1l-2.400 -5l3.700 -.3z" fill="#505050"/>
<!-- crosshair -->
<g shape-rendering="crispEdges" fill="#505050"><rect x="707" y="4" width="15" height="1"/><rect x="714" y="0" width="1" height="12"/><rect x="748" y="0" width="1" height="11"/><rect x="771" y="4" width="12" height="1"/></g>
<path d="M799 11L811 -1" stroke="#505050" stroke-width="1.100"/>
<!-- channel E -->
<g stroke="#505050" stroke-width="1" fill="none"><path d="M826 6l10 -8M827 10l12 -9.500M828 1l2 9M831 -1l2.500 10M834.500 -2l2 8"/></g>
<text x="835.500" y="13" font-family="Liberation Sans, sans-serif" font-size="7" font-weight="bold" fill="#404040">E</text>
<g stroke="#505050" stroke-width="1" stroke-dasharray="1 1" shape-rendering="crispEdges"><path d="M853 0.500h14M853 4.500h14M853 8.500h11"/></g>
<text x="863.500" y="13" font-family="Liberation Sans, sans-serif" font-size="7" font-weight="bold" fill="#404040">F</text>
<text x="884" y="8.500" font-family="Liberation Sans, sans-serif" font-size="13" font-weight="bold" fill="#606060" textLength="9" lengthAdjust="spacingAndGlyphs">A</text>
<rect x="911.500" y="-2" width="11" height="12.500" fill="none" stroke="#606060" stroke-dasharray="1 1" shape-rendering="crispEdges"/>
<text x="913.500" y="8" font-family="Liberation Sans, sans-serif" font-size="10.500" font-weight="bold" fill="#606060">T</text>
<!-- arrows icon -->
<path d="M939 -1l3.500 3l3 -3.500zM941 5.500l2.300 2l4 -5" fill="none" stroke="#404040" stroke-width="1.300"/><path d="M939 0l3 -2l3 2l-3 2zM945.500 7l3 -2.500l3.500 2.500l-3.300 3z" fill="#404040"/>
<use href="#dd" x="958.500" y="3.300"/>
<!-- timeframes -->
<g font-family="Liberation Sans, sans-serif" font-size="9.800" fill="#484848">
<text x="985.500" y="7.800" textLength="12.500" lengthAdjust="spacingAndGlyphs">M1</text>
<text x="1013.500" y="7.800" textLength="12.500" lengthAdjust="spacingAndGlyphs">M5</text>
<text x="1039.400" y="7.800" textLength="17.500" lengthAdjust="spacingAndGlyphs">M15</text>
<text x="1067.500" y="7.800" textLength="17.500" lengthAdjust="spacingAndGlyphs">M30</text>
<text x="1098.700" y="7.800" textLength="11.300" lengthAdjust="spacingAndGlyphs">H1</text>
<text x="1125.600" y="7.800" textLength="12" lengthAdjust="spacingAndGlyphs">H4</text>
<text x="1154.700" y="7.800" textLength="11.500" lengthAdjust="spacingAndGlyphs">D1</text>
<text x="1182" y="7.800" textLength="14" lengthAdjust="spacingAndGlyphs">W1</text>
<text x="1208.500" y="7.800" textLength="15" lengthAdjust="spacingAndGlyphs">MN</text>
</g>
<!-- right icons -->
<path d="M1645.300 4.800l-4.300 4.300" stroke="#2c5ed0" stroke-width="2.200" stroke-linecap="round"/><circle cx="1648.400" cy="1.200" r="4.300" fill="#fff" stroke="#3a66d8" stroke-width="1.100"/>
<path d="M1668 10.500l.5 2.500l2.500 -2.500z" fill="#b8b8c0"/><ellipse cx="1670.500" cy="6.300" rx="5.300" ry="4.700" fill="#dcdce4" stroke="#b4b4bc" stroke-width="0.800"/>
<circle cx="1679.500" cy="1.200" r="8.300" fill="url(#badge)"/>
<text x="1679.500" y="5.800" font-family="Liberation Serif, serif" font-size="13" fill="#fff" text-anchor="middle">1</text>
</svg>

<svg width="212" height="60" viewBox="0 38 212 60" style="position:absolute;left:0;top:38px">
<defs>
<linearGradient id="rtab" x1="0" y1="0" x2="0" y2="1"><stop offset="0" stop-color="#ff5656"/><stop offset="1" stop-color="#dc2828"/></linearGradient>
<linearGradient id="rbox" x1="0" y1="0" x2="0" y2="1"><stop offset="0" stop-color="#de2c2c"/><stop offset="0.55" stop-color="#c81a1a"/><stop offset="1" stop-color="#b00000"/></linearGradient>
<linearGradient id="btn" x1="0" y1="0" x2="0" y2="1"><stop offset="0" stop-color="#f2f2f2"/><stop offset="0.45" stop-color="#e6e6e6"/><stop offset="0.5" stop-color="#d8d8d8"/><stop offset="1" stop-color="#cccccc"/></linearGradient>
</defs>
<!-- sell -->
<rect x="-1" y="40.500" width="42.500" height="26" fill="url(#rtab)" stroke="#b40000" stroke-width="1"/>
<rect x="-1" y="64" width="100" height="33" fill="url(#rbox)"/>
<rect x="41" y="64" width="58" height="1" fill="#b40000"/>
<rect x="0" y="63" width="38" height="1" fill="#8c0000"/><rect x="0" y="64" width="38" height="1" fill="#ff8080"/>
<!-- buy -->
<rect x="157.500" y="40.500" width="51" height="26" fill="url(#rtab)" stroke="#b40000" stroke-width="1"/>
<rect x="101" y="64" width="108" height="33" fill="url(#rbox)"/>
<rect x="101" y="64" width="57" height="1" fill="#b40000"/>
<rect x="161" y="63" width="44" height="1" fill="#8c0000"/><rect x="161" y="64" width="44" height="1" fill="#ff8080"/>
<!-- spinner -->
<rect x="44.500" y="40.500" width="110" height="21.500" fill="#fff" stroke="#a4a8b0" stroke-width="1"/>
<rect x="46" y="42" width="18.500" height="18.500" fill="url(#btn)"/><rect x="65" y="41" width="1" height="21" fill="#a4a8b0"/>
<rect x="134.500" y="42" width="18.500" height="18.500" fill="url(#btn)"/><rect x="133" y="41" width="1" height="21" fill="#a4a8b0"/>
<path d="M52 49h5.400l-2.700 3z" fill="#4a60c8"/><path d="M141 52h5.400l-2.700 -3z" fill="#4a60c8"/>
<text x="130" y="54.800" font-family="Liberation Sans, sans-serif" font-size="12" fill="#000" text-anchor="end" textLength="23.500" lengthAdjust="spacingAndGlyphs">1.00</text>
<g font-family="Liberation Sans, sans-serif" fill="#fff">
<text x="2.500" y="56" font-size="12.400" textLength="25.500" lengthAdjust="spacingAndGlyphs">SELL</text>
<text x="171" y="56" font-size="12.400" textLength="22.800" lengthAdjust="spacingAndGlyphs">BUY</text>
<text x="6" y="92" font-size="12" font-weight="bold" textLength="35" lengthAdjust="spacingAndGlyphs">25756</text>
<text x="116" y="92" font-size="12" font-weight="bold" textLength="35" lengthAdjust="spacingAndGlyphs">25779</text>
<circle cx="47.500" cy="89.800" r="2.300"/><circle cx="158.300" cy="89.800" r="2.300"/>
</g>
<g font-family="Liberation Serif, serif" fill="#fff" font-size="36">
<text x="51.500" y="92" textLength="17" lengthAdjust="spacingAndGlyphs">0</text>
<text x="162.500" y="92" textLength="17" lengthAdjust="spacingAndGlyphs">0</text>
</g>
</svg>

</body></html>
